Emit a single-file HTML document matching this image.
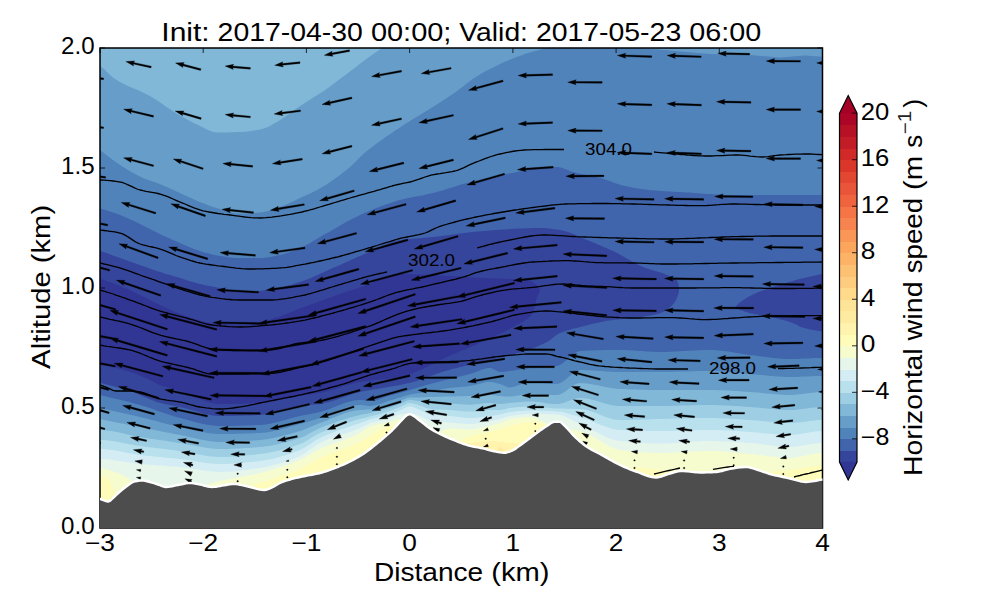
<!DOCTYPE html>
<html><head><meta charset="utf-8"><title>Cross-section</title>
<style>html,body{margin:0;padding:0;background:#fff;}body{width:1000px;height:600px;overflow:hidden;font-family:"Liberation Sans",sans-serif;}svg{display:block}</style></head>
<body>
<svg width="1000" height="600" viewBox="0 0 1000 600" style="display:block">
<rect width="1000" height="600" fill="#ffffff"/>
<defs><clipPath id="ax"><rect x="100.0" y="48.0" width="722.5" height="480.0"/></clipPath></defs>
<g clip-path="url(#ax)">
<g shape-rendering="geometricPrecision">
<path d="M98.0,46.0 L824.5,46.0 L824.5,530.0 L98.0,530.0Z" fill="#81b7d7"/>
<path d="M98.0,65.0 L101.0,66.6 L104.0,69.1 L107.0,71.9 L110.0,74.9 L113.0,77.5 L116.0,79.6 L119.0,81.4 L122.0,83.0 L125.0,84.5 L128.0,85.9 L131.0,87.2 L134.0,88.5 L137.0,89.8 L140.0,91.1 L143.0,92.4 L146.0,93.9 L149.0,95.4 L152.0,97.2 L155.0,99.0 L158.0,101.0 L161.0,103.1 L164.0,105.2 L167.0,107.3 L170.0,109.3 L173.0,111.3 L176.0,113.1 L179.0,114.9 L182.0,116.6 L185.0,118.3 L188.0,120.0 L191.0,121.6 L194.0,123.2 L197.0,124.6 L200.0,126.0 L203.0,127.4 L206.0,129.0 L209.0,130.4 L212.0,131.6 L215.0,132.3 L218.0,132.5 L221.0,132.5 L224.0,132.4 L227.0,132.4 L230.0,132.3 L233.0,132.2 L236.0,132.1 L239.0,132.0 L242.0,131.9 L245.0,131.7 L248.0,131.4 L251.0,131.0 L254.0,130.5 L257.0,130.0 L260.0,129.4 L263.0,128.8 L266.0,127.7 L269.0,126.4 L272.0,124.8 L275.0,123.0 L278.0,121.2 L281.0,119.4 L284.0,117.5 L287.0,115.4 L290.0,113.2 L293.0,111.0 L296.0,108.8 L299.0,106.7 L302.0,104.7 L305.0,102.7 L308.0,100.9 L311.0,99.0 L314.0,97.1 L317.0,95.2 L320.0,93.3 L323.0,91.4 L326.0,89.3 L329.0,87.2 L332.0,85.0 L335.0,82.8 L338.0,80.6 L341.0,78.3 L344.0,76.0 L347.0,73.8 L350.0,71.5 L353.0,69.2 L356.0,66.9 L359.0,64.6 L362.0,62.2 L365.0,60.0 L368.0,57.8 L371.0,55.7 L374.0,53.6 L377.0,51.6 L380.0,49.4 L383.0,47.3 L386.0,45.0 L387.0,45.0 L824.5,45.0 L824.5,45.0 L824.5,530.0 L98.0,530.0 L98.0,65.0Z" fill="#679ec9"/>
<path d="M98.0,148.5 L101.0,150.8 L104.0,153.1 L107.0,155.4 L110.0,157.8 L113.0,160.1 L116.0,162.3 L119.0,164.3 L122.0,166.3 L125.0,168.2 L128.0,170.0 L131.0,171.8 L134.0,173.5 L137.0,175.1 L140.0,176.6 L143.0,178.0 L146.0,179.2 L149.0,180.3 L152.0,181.2 L155.0,182.2 L158.0,183.2 L161.0,184.4 L164.0,185.7 L167.0,187.0 L170.0,188.4 L173.0,189.8 L176.0,191.2 L179.0,192.5 L182.0,193.9 L185.0,195.3 L188.0,196.7 L191.0,198.1 L194.0,199.5 L197.0,200.8 L200.0,202.0 L203.0,203.2 L206.0,204.3 L209.0,205.4 L212.0,206.5 L215.0,207.5 L218.0,208.4 L221.0,209.3 L224.0,210.2 L227.0,211.1 L230.0,211.9 L233.0,212.7 L236.0,213.2 L239.0,213.5 L242.0,213.5 L245.0,213.4 L248.0,213.3 L251.0,213.2 L254.0,213.0 L257.0,212.7 L260.0,212.5 L263.0,212.1 L266.0,211.5 L269.0,210.7 L272.0,209.8 L275.0,208.7 L278.0,207.7 L281.0,206.6 L284.0,205.5 L287.0,204.2 L290.0,202.8 L293.0,201.4 L296.0,199.9 L299.0,198.5 L302.0,197.1 L305.0,195.8 L308.0,194.4 L311.0,193.0 L314.0,191.6 L317.0,190.0 L320.0,188.3 L323.0,186.5 L326.0,184.7 L329.0,182.7 L332.0,180.7 L335.0,178.6 L338.0,176.4 L341.0,174.2 L344.0,171.8 L347.0,169.4 L350.0,167.0 L353.0,164.3 L356.0,161.3 L359.0,158.2 L362.0,155.2 L365.0,152.5 L368.0,150.0 L371.0,147.7 L374.0,145.4 L377.0,143.2 L380.0,141.0 L383.0,138.9 L386.0,136.8 L389.0,134.7 L392.0,132.7 L395.0,130.6 L398.0,128.7 L401.0,126.7 L404.0,124.7 L407.0,122.8 L410.0,120.9 L413.0,119.1 L416.0,117.2 L419.0,115.4 L422.0,113.6 L425.0,111.8 L428.0,110.0 L431.0,108.1 L434.0,106.2 L437.0,104.3 L440.0,102.4 L443.0,100.4 L446.0,98.5 L449.0,96.5 L452.0,94.5 L455.0,92.4 L458.0,90.3 L461.0,88.0 L464.0,85.7 L467.0,83.3 L470.0,81.0 L473.0,78.8 L476.0,76.9 L479.0,75.0 L482.0,73.3 L485.0,71.6 L488.0,69.9 L491.0,68.4 L494.0,66.9 L497.0,65.4 L500.0,64.0 L503.0,62.6 L506.0,61.3 L509.0,60.1 L512.0,58.8 L515.0,57.6 L518.0,56.5 L521.0,55.4 L524.0,54.3 L527.0,53.3 L530.0,52.4 L533.0,51.6 L536.0,50.8 L539.0,49.9 L542.0,49.0 L545.0,48.0 L548.0,46.8 L551.0,45.5 L552.0,45.0 L553.0,45.0 L824.5,45.0 L824.5,45.0 L824.5,530.0 L98.0,530.0 L98.0,148.5Z" fill="#5183bb"/>
<path d="M642.0,46.0 L642.0,48.0 L675.0,51.0 L710.0,54.0 L750.0,55.0 L780.0,57.5 L805.0,55.5 L825.0,57.0 L825.0,46.0Z" fill="#679ec9"/>
<path d="M98.0,208.0 L101.0,208.8 L104.0,209.6 L107.0,210.5 L110.0,211.5 L113.0,212.5 L116.0,213.5 L119.0,214.6 L122.0,215.8 L125.0,217.0 L128.0,218.3 L131.0,219.7 L134.0,221.1 L137.0,222.6 L140.0,224.0 L143.0,225.5 L146.0,227.0 L149.0,228.5 L152.0,230.0 L155.0,231.5 L158.0,233.0 L161.0,234.5 L164.0,235.9 L167.0,237.3 L170.0,238.6 L173.0,240.0 L176.0,241.3 L179.0,242.6 L182.0,243.9 L185.0,245.2 L188.0,246.4 L191.0,247.7 L194.0,248.9 L197.0,250.0 L200.0,251.0 L203.0,251.9 L206.0,252.8 L209.0,253.6 L212.0,254.4 L215.0,255.1 L218.0,255.7 L221.0,256.1 L224.0,256.6 L227.0,257.0 L230.0,257.4 L233.0,257.7 L236.0,257.9 L239.0,258.0 L242.0,258.0 L245.0,258.0 L248.0,258.0 L251.0,258.0 L254.0,258.0 L257.0,258.0 L260.0,258.0 L263.0,257.9 L266.0,257.6 L269.0,257.2 L272.0,256.7 L275.0,256.1 L278.0,255.4 L281.0,254.8 L284.0,254.0 L287.0,253.1 L290.0,252.0 L293.0,250.9 L296.0,249.7 L299.0,248.4 L302.0,247.1 L305.0,245.7 L308.0,244.1 L311.0,242.4 L314.0,240.6 L317.0,238.8 L320.0,237.0 L323.0,235.3 L326.0,233.6 L329.0,231.9 L332.0,230.2 L335.0,228.5 L338.0,226.7 L341.0,225.0 L344.0,223.3 L347.0,221.6 L350.0,220.0 L353.0,218.4 L356.0,216.9 L359.0,215.5 L362.0,214.1 L365.0,212.8 L368.0,211.5 L371.0,210.2 L374.0,209.0 L377.0,207.8 L380.0,206.6 L383.0,205.5 L386.0,204.4 L389.0,203.4 L392.0,202.4 L395.0,201.4 L398.0,200.6 L401.0,199.7 L404.0,199.0 L407.0,198.3 L410.0,197.7 L413.0,197.1 L416.0,196.5 L419.0,195.9 L422.0,195.4 L425.0,194.8 L428.0,194.1 L431.0,193.5 L434.0,192.7 L437.0,192.0 L440.0,191.1 L443.0,190.2 L446.0,189.3 L449.0,188.3 L452.0,187.4 L455.0,186.5 L458.0,185.5 L461.0,184.6 L464.0,183.8 L467.0,183.0 L470.0,182.2 L473.0,181.5 L476.0,180.8 L479.0,180.0 L482.0,179.3 L485.0,178.6 L488.0,178.0 L491.0,177.3 L494.0,176.6 L497.0,176.0 L500.0,175.3 L503.0,174.7 L506.0,174.1 L509.0,173.5 L512.0,172.9 L515.0,172.4 L518.0,171.8 L521.0,171.2 L524.0,170.7 L527.0,170.1 L530.0,169.5 L533.0,169.0 L536.0,168.5 L539.0,168.1 L542.0,167.7 L545.0,167.5 L548.0,167.3 L551.0,167.2 L554.0,167.0 L557.0,167.0 L560.0,167.3 L563.0,168.2 L566.0,169.4 L569.0,170.6 L572.0,171.7 L575.0,172.5 L578.0,173.2 L581.0,173.9 L584.0,174.5 L587.0,175.1 L590.0,175.7 L593.0,176.3 L596.0,177.0 L599.0,177.7 L602.0,178.6 L605.0,179.5 L608.0,180.5 L611.0,181.6 L614.0,182.7 L617.0,183.7 L620.0,184.7 L623.0,185.5 L626.0,186.2 L629.0,186.8 L632.0,187.4 L635.0,187.9 L638.0,188.4 L641.0,188.9 L644.0,189.3 L647.0,189.7 L650.0,190.0 L653.0,190.3 L656.0,190.5 L659.0,190.8 L662.0,191.0 L665.0,191.2 L668.0,191.4 L671.0,191.6 L674.0,191.7 L677.0,191.9 L680.0,192.1 L683.0,192.3 L686.0,192.4 L689.0,192.6 L692.0,192.8 L695.0,193.0 L698.0,193.2 L701.0,193.5 L704.0,193.7 L707.0,193.9 L710.0,194.1 L713.0,194.3 L716.0,194.5 L719.0,194.6 L722.0,194.8 L725.0,194.9 L728.0,194.9 L731.0,195.0 L734.0,195.0 L737.0,195.0 L740.0,195.0 L743.0,195.0 L746.0,195.0 L749.0,195.0 L752.0,195.0 L755.0,195.0 L758.0,195.0 L761.0,195.0 L764.0,195.0 L767.0,195.0 L770.0,195.0 L773.0,195.0 L776.0,195.0 L779.0,195.0 L782.0,195.0 L785.0,195.0 L788.0,195.0 L791.0,195.0 L794.0,195.0 L797.0,195.0 L800.0,195.0 L803.0,195.0 L806.0,195.0 L809.0,195.0 L812.0,195.0 L815.0,195.0 L818.0,195.0 L821.0,195.0 L824.0,195.0 L825.0,195.0 L824.5,195.0 L824.5,530.0 L98.0,530.0 L98.0,208.0Z" fill="#4065ac"/>
<path d="M98.0,250.5 L98.0,250.5 L100.9,251.3 L103.8,252.1 L106.6,253.1 L109.4,254.1 L112.2,255.2 L115.1,256.2 L117.9,257.2 L120.7,258.2 L123.5,259.2 L126.4,260.2 L129.2,261.2 L132.0,262.2 L134.9,263.2 L137.7,264.2 L140.5,265.2 L143.4,266.2 L146.2,267.2 L149.0,268.2 L151.8,269.2 L154.7,270.2 L157.5,271.2 L160.4,272.1 L163.2,273.0 L166.1,273.9 L169.0,274.7 L171.8,275.6 L174.7,276.4 L177.6,277.3 L180.5,278.1 L183.3,279.0 L186.2,279.9 L189.1,280.9 L191.9,281.8 L194.8,282.6 L197.7,283.4 L200.6,284.1 L203.5,284.8 L206.4,285.4 L209.4,286.0 L212.3,286.6 L215.3,287.1 L218.2,287.7 L221.2,288.2 L224.1,288.9 L227.1,289.5 L230.0,290.2 L233.0,290.8 L235.9,291.4 L238.9,291.8 L241.9,292.0 L244.9,292.0 L247.8,291.9 L250.8,291.7 L253.8,291.5 L256.8,291.2 L259.8,290.9 L262.8,290.5 L265.8,290.1 L268.8,289.8 L271.7,289.3 L274.7,288.8 L277.6,288.2 L280.5,287.5 L283.5,286.8 L286.4,286.0 L289.3,285.2 L292.2,284.4 L295.1,283.5 L297.9,282.6 L300.8,281.8 L303.6,280.8 L306.4,279.8 L309.2,278.7 L312.0,277.5 L314.7,276.3 L317.5,275.1 L320.2,273.8 L322.9,272.6 L325.7,271.3 L328.4,270.0 L331.1,268.8 L333.9,267.6 L336.6,266.4 L339.4,265.2 L342.1,264.0 L344.9,262.7 L347.6,261.5 L350.3,260.3 L353.1,259.0 L355.8,257.8 L358.6,256.6 L361.3,255.4 L364.1,254.2 L366.8,253.1 L369.6,251.9 L372.4,250.6 L375.1,249.3 L377.9,248.0 L380.6,246.7 L383.4,245.4 L386.2,244.2 L389.0,243.1 L391.8,242.0 L394.6,241.2 L397.5,240.5 L400.3,239.9 L403.2,239.6 L406.2,239.2 L409.2,238.9 L412.1,238.7 L415.1,238.4 L418.2,238.2 L421.2,238.0 L424.2,237.8 L427.2,237.5 L430.2,237.3 L433.2,237.0 L436.2,236.7 L439.2,236.3 L442.2,235.9 L445.1,235.6 L448.1,235.2 L451.1,234.8 L454.1,234.4 L457.0,234.0 L460.0,233.5 L463.0,233.2 L466.0,232.8 L468.9,232.4 L471.9,232.1 L474.9,231.7 L477.9,231.4 L480.9,231.2 L483.9,230.9 L486.8,230.7 L489.8,230.5 L492.8,230.3 L495.8,230.0 L498.8,229.8 L501.8,229.6 L504.8,229.4 L507.8,229.2 L510.8,229.0 L513.8,228.8 L516.8,228.7 L519.8,228.5 L522.8,228.4 L525.8,228.3 L528.8,228.2 L531.8,228.1 L534.8,228.0 L537.8,228.0 L540.8,228.0 L543.8,228.1 L546.8,228.3 L549.8,228.6 L552.8,229.0 L555.8,229.4 L558.7,229.8 L561.6,230.3 L564.5,231.0 L567.3,231.8 L570.2,232.8 L573.0,233.9 L575.8,235.1 L578.6,236.3 L581.3,237.6 L584.1,238.8 L586.9,240.0 L589.7,241.1 L592.5,242.2 L595.2,243.3 L598.0,244.5 L600.8,245.7 L603.5,246.9 L606.3,248.1 L609.0,249.3 L611.8,250.5 L614.5,251.8 L617.2,253.1 L619.8,254.4 L622.5,255.9 L625.1,257.4 L627.7,258.9 L630.3,260.4 L632.9,261.9 L635.5,263.4 L638.2,264.8 L640.9,266.1 L643.6,267.2 L646.4,268.3 L649.3,269.2 L652.2,270.1 L655.1,270.9 L658.0,271.7 L660.9,272.6 L663.7,273.6 L666.4,274.7 L669.3,276.0 L672.4,277.4 L675.3,279.0 L677.4,280.9 L678.3,283.1 L678.7,286.0 L679.0,289.3 L678.8,292.2 L678.0,295.3 L676.9,298.1 L675.7,300.7 L674.1,303.1 L672.0,305.4 L669.7,307.6 L667.2,309.6 L664.6,311.2 L662.0,312.4 L659.2,313.4 L656.3,314.3 L653.3,314.9 L650.4,315.5 L647.4,316.0 L644.5,316.5 L641.5,316.9 L638.5,317.3 L635.5,317.7 L632.5,318.1 L629.6,318.4 L626.6,318.7 L623.6,318.9 L620.6,319.2 L617.6,319.5 L614.6,319.8 L611.7,320.2 L608.7,320.6 L605.7,321.1 L602.8,321.7 L599.8,322.3 L596.9,322.9 L594.0,323.6 L591.0,324.3 L588.1,325.0 L585.2,325.7 L582.3,326.4 L579.4,327.2 L576.5,327.9 L573.5,328.6 L570.6,329.4 L567.7,330.2 L564.8,331.2 L562.0,332.2 L559.3,333.3 L556.8,334.8 L554.4,336.6 L552.0,338.6 L549.6,340.4 L547.1,342.0 L544.4,343.3 L541.7,344.6 L539.0,345.8 L536.2,346.9 L533.4,348.0 L530.5,349.0 L527.7,350.0 L524.8,351.0 L521.9,351.9 L519.1,352.8 L516.2,353.6 L513.3,354.4 L510.4,355.2 L507.5,356.0 L504.6,356.7 L501.7,357.4 L498.8,358.1 L495.9,358.8 L492.9,359.5 L490.0,360.1 L487.1,360.8 L484.1,361.5 L481.2,362.2 L478.3,362.9 L475.4,363.6 L472.5,364.3 L469.5,365.0 L466.6,365.6 L463.7,366.3 L460.8,367.0 L457.8,367.7 L454.9,368.4 L452.0,369.1 L449.1,369.9 L446.3,370.7 L443.4,371.6 L440.5,372.5 L437.7,373.5 L434.9,374.5 L432.0,375.6 L429.2,376.6 L426.4,377.6 L423.6,378.7 L420.7,379.6 L417.9,380.6 L415.0,381.4 L412.1,382.2 L409.2,383.0 L406.3,383.6 L403.4,384.3 L400.4,384.9 L397.5,385.5 L394.6,386.0 L391.6,386.6 L388.6,387.1 L385.7,387.5 L382.7,388.0 L379.7,388.5 L376.8,388.9 L373.8,389.4 L370.8,389.9 L367.9,390.4 L364.9,391.0 L362.0,391.6 L359.1,392.2 L356.2,392.9 L353.3,393.8 L350.4,394.7 L347.6,395.7 L344.7,396.7 L341.9,397.7 L339.0,398.8 L336.2,399.8 L333.3,400.7 L330.5,401.6 L327.6,402.4 L324.7,403.1 L321.8,403.7 L318.8,404.2 L315.9,404.5 L312.9,404.8 L309.9,405.0 L306.9,405.3 L303.9,405.6 L300.9,405.9 L297.9,406.3 L295.0,406.8 L292.0,407.4 L289.1,408.0 L286.2,408.6 L283.2,409.3 L280.3,409.9 L277.4,410.7 L274.5,411.5 L271.6,412.4 L268.7,413.3 L265.8,414.1 L262.9,414.7 L259.9,415.0 L257.0,415.1 L254.0,415.3 L251.0,415.4 L248.0,415.5 L245.0,415.6 L242.0,415.7 L239.0,415.8 L235.9,415.8 L232.9,415.9 L229.9,415.9 L226.9,416.0 L223.9,416.0 L220.9,416.0 L218.0,416.0 L215.0,415.7 L212.1,415.4 L209.1,414.8 L206.2,414.2 L203.3,413.5 L200.4,412.7 L197.5,411.8 L194.6,411.0 L191.6,410.1 L188.7,409.2 L185.8,408.4 L182.9,407.7 L179.9,407.0 L177.0,406.4 L174.0,405.9 L171.1,405.3 L168.1,404.8 L165.2,404.2 L162.3,403.6 L159.4,402.8 L156.5,401.9 L153.7,400.8 L150.9,399.7 L148.1,398.6 L145.4,397.4 L142.6,396.2 L139.9,395.0 L137.1,393.8 L134.4,392.6 L131.6,391.5 L128.7,390.6 L125.9,389.7 L123.0,388.9 L120.1,388.1 L117.2,387.3 L114.3,386.6 L111.4,385.8 L108.5,385.0 L105.6,384.3 L102.6,383.5 L99.7,383.0 L98.0,382.7 L98.0,382.7Z" fill="#36459c"/>
<path d="M825.0,273.5 L822.0,274.1 L819.1,274.6 L816.2,275.2 L813.2,275.9 L810.3,276.5 L807.4,277.2 L804.5,277.9 L801.5,278.6 L798.6,279.3 L795.7,280.1 L792.8,280.9 L790.0,281.7 L787.1,282.5 L784.2,283.4 L781.3,284.3 L778.5,285.2 L775.6,286.1 L772.8,287.1 L769.9,288.0 L767.1,289.0 L764.2,290.0 L761.4,291.0 L758.5,292.1 L755.7,293.2 L753.0,294.5 L750.4,295.8 L747.6,297.3 L744.5,299.2 L741.5,301.2 L738.8,303.3 L736.8,305.2 L736.0,306.9 L736.8,308.3 L739.2,309.6 L742.5,310.8 L746.2,311.9 L749.5,312.9 L752.4,313.6 L755.3,314.3 L758.3,314.8 L761.2,315.4 L764.2,315.9 L767.2,316.4 L770.1,317.0 L773.0,317.7 L776.0,318.3 L778.9,319.0 L781.8,319.7 L784.7,320.5 L787.6,321.3 L790.5,322.2 L793.2,323.3 L796.0,324.6 L798.7,326.0 L801.4,327.2 L804.2,328.1 L807.1,328.8 L810.0,329.4 L812.9,330.0 L815.9,330.6 L818.9,331.0 L821.9,331.3 L825.0,331.5 L825.0,331.5 L824.5,331.5 L824.5,273.5Z" fill="#36459c"/>
<path d="M98.0,278.5 L98.0,278.5 L100.9,279.3 L103.8,280.1 L106.6,281.0 L109.5,282.0 L112.3,283.0 L115.1,284.1 L117.9,285.2 L120.7,286.3 L123.5,287.4 L126.2,288.6 L129.0,289.8 L131.7,291.1 L134.4,292.4 L137.1,293.6 L139.8,294.9 L142.5,296.2 L145.2,297.6 L147.9,298.9 L150.6,300.3 L153.2,301.7 L155.9,303.0 L158.6,304.3 L161.3,305.6 L164.0,306.9 L166.8,308.2 L169.5,309.5 L172.2,310.7 L175.0,311.9 L177.8,313.1 L180.5,314.1 L183.4,315.1 L186.2,316.1 L189.0,317.0 L191.9,318.0 L194.8,318.9 L197.7,319.8 L200.6,320.6 L203.5,321.3 L206.5,322.0 L209.4,322.5 L212.3,322.9 L215.3,323.2 L218.3,323.5 L221.3,323.8 L224.3,324.1 L227.3,324.3 L230.3,324.6 L233.3,324.7 L236.3,324.9 L239.3,325.0 L242.3,325.0 L245.2,324.9 L248.2,324.7 L251.2,324.3 L254.1,323.7 L257.1,323.0 L260.0,322.3 L262.9,321.4 L265.8,320.6 L268.7,319.7 L271.6,318.9 L274.5,318.1 L277.3,317.2 L280.2,316.2 L283.0,315.2 L285.8,314.1 L288.6,313.0 L291.4,311.9 L294.2,310.7 L297.0,309.6 L299.8,308.6 L302.6,307.5 L305.4,306.5 L308.2,305.5 L311.0,304.4 L313.9,303.4 L316.7,302.4 L319.5,301.3 L322.3,300.3 L325.1,299.3 L328.0,298.3 L330.8,297.3 L333.6,296.3 L336.5,295.3 L339.3,294.3 L342.1,293.3 L345.0,292.4 L347.8,291.4 L350.7,290.5 L353.5,289.5 L356.3,288.6 L359.2,287.6 L362.0,286.7 L364.9,285.7 L367.7,284.8 L370.6,283.7 L373.4,282.5 L376.2,281.3 L379.0,280.0 L381.9,278.8 L384.7,277.6 L387.5,276.5 L390.4,275.6 L393.2,274.8 L396.1,274.3 L399.0,274.0 L401.9,274.0 L404.9,274.0 L407.9,274.1 L410.9,274.2 L413.9,274.3 L416.9,274.4 L419.9,274.5 L422.9,274.6 L425.9,274.7 L429.0,274.8 L432.0,275.0 L435.0,275.1 L438.0,275.2 L441.0,275.4 L444.0,275.5 L446.9,275.7 L449.9,275.9 L452.9,276.1 L455.9,276.3 L458.9,276.5 L461.9,276.7 L464.9,276.9 L467.9,277.1 L470.9,277.3 L473.9,277.5 L476.9,277.7 L479.9,277.8 L482.9,278.0 L485.9,278.1 L489.0,278.3 L492.1,278.4 L495.2,278.5 L498.3,278.5 L501.4,278.6 L504.5,278.7 L507.6,278.8 L510.7,278.9 L513.7,279.0 L516.7,279.2 L519.5,279.4 L522.4,279.6 L525.1,279.8 L527.7,280.1 L530.8,281.1 L533.9,282.7 L536.8,284.9 L538.9,287.2 L540.0,289.6 L539.4,292.0 L537.9,294.9 L536.8,297.8 L536.0,300.8 L535.4,303.9 L534.8,307.0 L534.1,309.9 L533.2,312.5 L532.0,314.6 L530.2,316.6 L527.9,318.5 L525.3,320.2 L522.5,321.9 L519.6,323.4 L516.7,325.0 L514.0,326.5 L511.4,327.9 L508.8,329.4 L506.1,330.8 L503.4,332.2 L500.8,333.5 L498.0,334.8 L495.3,336.1 L492.6,337.3 L489.8,338.6 L487.1,339.8 L484.3,341.0 L481.6,342.3 L478.9,343.5 L476.1,344.7 L473.4,345.9 L470.6,347.1 L467.8,348.2 L465.1,349.4 L462.3,350.5 L459.5,351.6 L456.7,352.8 L454.0,354.0 L451.2,355.1 L448.5,356.3 L445.7,357.6 L443.0,358.9 L440.3,360.2 L437.7,361.6 L435.0,362.9 L432.3,364.3 L429.6,365.6 L426.9,366.9 L424.2,368.2 L421.5,369.4 L418.7,370.5 L415.9,371.7 L413.1,372.8 L410.3,373.9 L407.4,374.9 L404.6,375.9 L401.7,376.6 L398.8,377.2 L395.9,377.7 L392.9,378.2 L390.0,378.6 L387.0,378.9 L384.0,379.2 L381.0,379.5 L378.0,379.8 L375.0,380.1 L372.0,380.4 L369.0,380.7 L366.0,381.1 L363.0,381.5 L360.1,382.0 L357.2,382.5 L354.2,383.2 L351.3,384.0 L348.5,384.8 L345.6,385.6 L342.7,386.5 L339.8,387.5 L337.0,388.4 L334.1,389.3 L331.2,390.2 L328.3,391.0 L325.4,391.8 L322.5,392.5 L319.6,393.1 L316.6,393.6 L313.7,394.0 L310.7,394.4 L307.7,394.9 L304.7,395.3 L301.8,395.7 L298.8,396.2 L295.9,396.8 L292.9,397.4 L290.0,398.0 L287.1,398.6 L284.1,399.2 L281.2,399.8 L278.2,400.3 L275.3,400.9 L272.3,401.4 L269.3,401.9 L266.4,402.4 L263.4,402.7 L260.4,403.0 L257.4,403.1 L254.4,403.2 L251.4,403.4 L248.4,403.5 L245.4,403.6 L242.3,403.7 L239.3,403.7 L236.3,403.8 L233.3,403.9 L230.3,403.9 L227.3,404.0 L224.3,404.0 L221.4,404.0 L218.5,404.0 L215.6,403.7 L212.7,403.2 L209.8,402.5 L206.9,401.7 L204.1,400.7 L201.3,399.6 L198.4,398.4 L195.6,397.2 L192.8,396.0 L189.9,394.8 L187.1,393.6 L184.3,392.5 L181.4,391.5 L178.5,390.6 L175.7,389.7 L172.7,388.9 L169.8,388.1 L166.9,387.3 L164.1,386.4 L161.3,385.5 L158.5,384.4 L155.8,383.1 L153.2,381.6 L150.5,380.2 L147.8,378.9 L145.0,377.7 L142.3,376.6 L139.5,375.4 L136.7,374.3 L133.9,373.3 L131.0,372.3 L128.2,371.4 L125.3,370.5 L122.4,369.6 L119.6,368.8 L116.6,368.1 L113.7,367.4 L110.8,366.8 L107.9,366.2 L104.9,365.7 L101.9,365.2 L98.9,364.9 L98.0,364.8 L98.0,364.8Z" fill="#313695"/>
<path d="M98.0,394.5 L101.0,395.2 L104.0,396.0 L107.0,396.7 L110.0,397.4 L113.0,398.2 L116.0,398.9 L119.0,399.6 L122.0,400.3 L125.0,401.1 L128.0,401.8 L131.0,402.6 L134.0,403.4 L137.0,404.2 L140.0,405.0 L143.0,405.9 L146.0,406.8 L149.0,407.8 L152.0,408.8 L155.0,409.9 L158.0,411.0 L161.0,412.0 L164.0,413.1 L167.0,414.1 L170.0,415.1 L173.0,416.1 L176.0,416.9 L179.0,417.7 L182.0,418.5 L185.0,419.3 L188.0,420.1 L191.0,420.9 L194.0,421.7 L197.0,422.5 L200.0,423.2 L203.0,423.9 L206.0,424.5 L209.0,425.1 L212.0,425.5 L215.0,425.8 L218.0,426.0 L221.0,426.0 L224.0,426.0 L227.0,426.0 L230.0,425.9 L233.0,425.9 L236.0,425.8 L239.0,425.8 L242.0,425.7 L245.0,425.6 L248.0,425.5 L251.0,425.4 L254.0,425.3 L257.0,425.1 L260.0,425.0 L263.0,424.8 L266.0,424.4 L269.0,423.9 L272.0,423.3 L275.0,422.6 L278.0,421.9 L281.0,421.1 L284.0,420.2 L287.0,419.4 L290.0,418.5 L293.0,417.7 L296.0,416.9 L299.0,416.2 L302.0,415.6 L305.0,415.0 L308.0,414.4 L311.0,413.9 L314.0,413.3 L317.0,412.7 L320.0,412.0 L323.0,411.2 L326.0,410.3 L329.0,409.2 L332.0,408.0 L335.0,406.8 L338.0,405.6 L341.0,404.4 L344.0,403.3 L347.0,402.3 L350.0,401.4 L353.0,400.7 L356.0,400.3 L359.0,400.0 L362.0,400.1 L365.0,400.5 L368.0,400.9 L371.0,401.0 L374.0,400.6 L377.0,399.9 L380.0,398.9 L383.0,397.8 L386.0,396.7 L389.0,395.8 L392.0,395.0 L395.0,394.3 L398.0,393.5 L401.0,392.7 L404.0,391.8 L407.0,390.9 L410.0,390.0 L413.0,389.1 L416.0,388.2 L419.0,387.3 L422.0,386.4 L425.0,385.5 L428.0,384.6 L431.0,383.7 L434.0,382.9 L437.0,382.2 L440.0,381.4 L443.0,380.7 L446.0,380.0 L449.0,379.2 L452.0,378.5 L455.0,377.8 L458.0,377.0 L461.0,376.3 L464.0,375.6 L467.0,374.8 L470.0,374.0 L473.0,373.0 L476.0,371.9 L479.0,370.7 L482.0,369.6 L485.0,368.7 L488.0,368.1 L491.0,368.1 L494.0,369.4 L497.0,371.1 L500.0,372.0 L503.0,371.9 L506.0,371.5 L509.0,371.1 L512.0,370.7 L515.0,370.3 L518.0,369.8 L521.0,369.3 L524.0,368.8 L527.0,368.4 L530.0,368.0 L533.0,367.7 L536.0,367.5 L539.0,367.3 L542.0,367.2 L545.0,367.0 L548.0,366.9 L551.0,366.6 L554.0,366.4 L557.0,366.0 L560.0,365.0 L563.0,363.1 L566.0,360.6 L569.0,357.8 L572.0,355.1 L575.0,352.9 L578.0,351.4 L581.0,350.9 L584.0,350.8 L587.0,350.7 L590.0,350.5 L593.0,350.4 L596.0,350.3 L599.0,350.3 L602.0,350.2 L605.0,350.1 L608.0,350.1 L611.0,350.0 L614.0,350.0 L617.0,350.0 L620.0,350.0 L623.0,350.0 L626.0,350.1 L629.0,350.3 L632.0,350.4 L635.0,350.6 L638.0,350.9 L641.0,351.1 L644.0,351.3 L647.0,351.5 L650.0,351.7 L653.0,351.8 L656.0,351.9 L659.0,352.0 L662.0,352.0 L665.0,351.9 L668.0,351.9 L671.0,351.8 L674.0,351.6 L677.0,351.5 L680.0,351.3 L683.0,351.1 L686.0,350.9 L689.0,350.8 L692.0,350.6 L695.0,350.4 L698.0,350.3 L701.0,350.2 L704.0,350.1 L707.0,350.0 L710.0,350.0 L713.0,350.1 L716.0,350.2 L719.0,350.5 L722.0,350.8 L725.0,351.2 L728.0,351.6 L731.0,352.1 L734.0,352.6 L737.0,353.1 L740.0,353.6 L743.0,354.1 L746.0,354.5 L749.0,354.9 L752.0,355.2 L755.0,355.6 L758.0,356.0 L761.0,356.4 L764.0,356.8 L767.0,357.2 L770.0,357.6 L773.0,357.9 L776.0,358.2 L779.0,358.5 L782.0,358.7 L785.0,358.9 L788.0,359.0 L791.0,359.0 L794.0,359.0 L797.0,358.9 L800.0,358.8 L803.0,358.6 L806.0,358.5 L809.0,358.4 L812.0,358.2 L815.0,358.1 L818.0,358.0 L821.0,358.0 L824.0,358.0 L824.5,358.0 L824.5,358.0 L824.5,530.0 L98.0,530.0 L98.0,394.5Z" fill="#5183bb"/>
<path d="M98.0,407.5 L101.0,408.2 L104.0,408.9 L107.0,409.6 L110.0,410.3 L113.0,411.0 L116.0,411.6 L119.0,412.3 L122.0,413.0 L125.0,413.6 L128.0,414.3 L131.0,414.9 L134.0,415.6 L137.0,416.3 L140.0,417.0 L143.0,417.7 L146.0,418.5 L149.0,419.2 L152.0,420.0 L155.0,420.8 L158.0,421.6 L161.0,422.4 L164.0,423.2 L167.0,424.0 L170.0,424.7 L173.0,425.4 L176.0,426.1 L179.0,426.8 L182.0,427.4 L185.0,428.1 L188.0,428.8 L191.0,429.5 L194.0,430.2 L197.0,430.9 L200.0,431.5 L203.0,432.1 L206.0,432.7 L209.0,433.2 L212.0,433.5 L215.0,433.8 L218.0,434.0 L221.0,434.0 L224.0,434.0 L227.0,434.0 L230.0,433.9 L233.0,433.9 L236.0,433.8 L239.0,433.8 L242.0,433.7 L245.0,433.6 L248.0,433.5 L251.0,433.4 L254.0,433.3 L257.0,433.1 L260.0,433.0 L263.0,432.8 L266.0,432.5 L269.0,432.0 L272.0,431.4 L275.0,430.8 L278.0,430.1 L281.0,429.3 L284.0,428.5 L287.0,427.7 L290.0,426.8 L293.0,425.9 L296.0,425.1 L299.0,424.3 L302.0,423.5 L305.0,422.6 L308.0,421.7 L311.0,420.8 L314.0,419.9 L317.0,418.9 L320.0,418.0 L323.0,417.0 L326.0,415.9 L329.0,414.6 L332.0,413.4 L335.0,412.1 L338.0,410.8 L341.0,409.5 L344.0,408.4 L347.0,407.3 L350.0,406.4 L353.0,405.7 L356.0,405.3 L359.0,405.0 L362.0,405.1 L365.0,405.5 L368.0,405.9 L371.0,406.0 L374.0,405.6 L377.0,404.9 L380.0,404.0 L383.0,402.9 L386.0,401.8 L389.0,400.8 L392.0,399.9 L395.0,399.0 L398.0,398.1 L401.0,397.2 L404.0,396.2 L407.0,395.3 L410.0,394.5 L413.0,394.0 L416.0,393.6 L419.0,393.1 L422.0,392.7 L425.0,392.3 L428.0,391.8 L431.0,391.3 L434.0,390.8 L437.0,390.2 L440.0,389.7 L443.0,389.1 L446.0,388.6 L449.0,388.1 L452.0,387.8 L455.0,387.5 L458.0,387.2 L461.0,386.9 L464.0,386.7 L467.0,386.4 L470.0,386.0 L473.0,385.5 L476.0,384.7 L479.0,383.9 L482.0,383.2 L485.0,382.5 L488.0,382.1 L491.0,382.0 L494.0,382.5 L497.0,383.2 L500.0,384.0 L503.0,385.1 L506.0,386.5 L509.0,387.4 L512.0,387.3 L515.0,386.6 L518.0,385.6 L521.0,384.3 L524.0,383.2 L527.0,382.3 L530.0,382.0 L533.0,382.1 L536.0,382.3 L539.0,382.5 L542.0,382.8 L545.0,383.2 L548.0,383.5 L551.0,383.7 L554.0,383.9 L557.0,384.0 L560.0,383.3 L563.0,381.6 L566.0,379.2 L569.0,376.5 L572.0,373.9 L575.0,371.7 L578.0,370.3 L581.0,370.0 L584.0,370.1 L587.0,370.2 L590.0,370.3 L593.0,370.5 L596.0,370.7 L599.0,370.9 L602.0,371.1 L605.0,371.4 L608.0,371.6 L611.0,371.7 L614.0,371.9 L617.0,372.0 L620.0,372.0 L623.0,372.0 L626.0,372.0 L629.0,372.0 L632.0,372.0 L635.0,372.0 L638.0,372.0 L641.0,372.0 L644.0,372.0 L647.0,372.0 L650.0,372.0 L653.0,372.0 L656.0,372.0 L659.0,372.0 L662.0,372.0 L665.0,372.0 L668.0,371.9 L671.0,371.9 L674.0,371.8 L677.0,371.7 L680.0,371.6 L683.0,371.6 L686.0,371.5 L689.0,371.4 L692.0,371.3 L695.0,371.2 L698.0,371.1 L701.0,371.1 L704.0,371.0 L707.0,371.0 L710.0,371.0 L713.0,371.0 L716.0,371.1 L719.0,371.3 L722.0,371.5 L725.0,371.7 L728.0,371.9 L731.0,372.2 L734.0,372.5 L737.0,372.8 L740.0,373.1 L743.0,373.4 L746.0,373.7 L749.0,373.9 L752.0,374.2 L755.0,374.4 L758.0,374.7 L761.0,375.0 L764.0,375.3 L767.0,375.6 L770.0,375.9 L773.0,376.1 L776.0,376.4 L779.0,376.6 L782.0,376.8 L785.0,376.9 L788.0,377.0 L791.0,377.0 L794.0,377.0 L797.0,376.9 L800.0,376.8 L803.0,376.6 L806.0,376.5 L809.0,376.4 L812.0,376.2 L815.0,376.1 L818.0,376.0 L821.0,376.0 L824.0,376.0 L824.5,376.0 L824.5,376.0 L824.5,530.0 L98.0,530.0 L98.0,407.5Z" fill="#679ec9"/>
<path d="M98.0,418.5 L101.0,419.2 L104.0,419.9 L107.0,420.5 L110.0,421.2 L113.0,421.8 L116.0,422.4 L119.0,423.0 L122.0,423.5 L125.0,424.1 L128.0,424.7 L131.0,425.2 L134.0,425.8 L137.0,426.4 L140.0,427.0 L143.0,427.6 L146.0,428.2 L149.0,428.8 L152.0,429.4 L155.0,430.0 L158.0,430.7 L161.0,431.3 L164.0,431.9 L167.0,432.5 L170.0,433.1 L173.0,433.7 L176.0,434.2 L179.0,434.8 L182.0,435.4 L185.0,436.0 L188.0,436.7 L191.0,437.4 L194.0,438.1 L197.0,438.8 L200.0,439.4 L203.0,440.1 L206.0,440.6 L209.0,441.1 L212.0,441.5 L215.0,441.8 L218.0,442.0 L221.0,442.0 L224.0,442.0 L227.0,441.9 L230.0,441.8 L233.0,441.7 L236.0,441.6 L239.0,441.5 L242.0,441.3 L245.0,441.1 L248.0,440.9 L251.0,440.7 L254.0,440.5 L257.0,440.2 L260.0,440.0 L263.0,439.7 L266.0,439.3 L269.0,438.9 L272.0,438.3 L275.0,437.7 L278.0,437.1 L281.0,436.3 L284.0,435.6 L287.0,434.8 L290.0,433.9 L293.0,433.1 L296.0,432.2 L299.0,431.3 L302.0,430.4 L305.0,429.3 L308.0,428.0 L311.0,426.7 L314.0,425.4 L317.0,424.2 L320.0,423.0 L323.0,421.9 L326.0,420.7 L329.0,419.5 L332.0,418.2 L335.0,417.0 L338.0,415.8 L341.0,414.7 L344.0,413.6 L347.0,412.6 L350.0,411.8 L353.0,411.0 L356.0,410.5 L359.0,410.1 L362.0,409.9 L365.0,409.8 L368.0,409.6 L371.0,409.4 L374.0,408.9 L377.0,408.2 L380.0,407.3 L383.0,406.3 L386.0,405.3 L389.0,404.3 L392.0,403.4 L395.0,402.5 L398.0,401.6 L401.0,400.6 L404.0,399.3 L407.0,398.1 L410.0,397.5 L413.0,397.5 L416.0,397.5 L419.0,397.5 L422.0,397.5 L425.0,397.3 L428.0,397.1 L431.0,397.0 L434.0,396.9 L437.0,396.8 L440.0,396.7 L443.0,396.7 L446.0,396.6 L449.0,396.5 L452.0,396.5 L455.0,396.4 L458.0,396.3 L461.0,396.2 L464.0,396.2 L467.0,396.1 L470.0,396.0 L473.0,395.9 L476.0,395.7 L479.0,395.5 L482.0,395.3 L485.0,395.1 L488.0,395.0 L491.0,395.0 L494.0,395.3 L497.0,395.7 L500.0,396.0 L503.0,396.2 L506.0,396.4 L509.0,396.5 L512.0,396.4 L515.0,396.1 L518.0,395.6 L521.0,395.1 L524.0,394.5 L527.0,394.2 L530.0,394.0 L533.0,394.0 L536.0,394.1 L539.0,394.3 L542.0,394.4 L545.0,394.6 L548.0,394.7 L551.0,394.9 L554.0,395.0 L557.0,395.0 L560.0,394.4 L563.0,393.0 L566.0,390.9 L569.0,388.6 L572.0,386.3 L575.0,384.5 L578.0,383.3 L581.0,383.0 L584.0,383.2 L587.0,383.4 L590.0,383.9 L593.0,384.4 L596.0,384.9 L599.0,385.6 L602.0,386.2 L605.0,386.9 L608.0,387.5 L611.0,388.0 L614.0,388.4 L617.0,388.8 L620.0,389.0 L623.0,389.1 L626.0,389.2 L629.0,389.4 L632.0,389.5 L635.0,389.6 L638.0,389.7 L641.0,389.7 L644.0,389.8 L647.0,389.9 L650.0,389.9 L653.0,390.0 L656.0,390.0 L659.0,390.0 L662.0,390.0 L665.0,390.0 L668.0,390.0 L671.0,390.0 L674.0,390.0 L677.0,390.0 L680.0,390.0 L683.0,390.0 L686.0,390.0 L689.0,390.0 L692.0,390.0 L695.0,390.0 L698.0,390.0 L701.0,390.0 L704.0,390.0 L707.0,390.0 L710.0,390.0 L713.0,390.0 L716.0,390.1 L719.0,390.2 L722.0,390.3 L725.0,390.4 L728.0,390.6 L731.0,390.8 L734.0,391.0 L737.0,391.1 L740.0,391.3 L743.0,391.6 L746.0,391.7 L749.0,391.9 L752.0,392.1 L755.0,392.4 L758.0,392.6 L761.0,392.9 L764.0,393.2 L767.0,393.5 L770.0,393.8 L773.0,394.1 L776.0,394.3 L779.0,394.6 L782.0,394.8 L785.0,394.9 L788.0,395.0 L791.0,395.0 L794.0,394.9 L797.0,394.6 L800.0,394.3 L803.0,393.9 L806.0,393.5 L809.0,393.1 L812.0,392.7 L815.0,392.4 L818.0,392.1 L821.0,392.0 L824.0,392.0 L824.5,392.0 L824.5,392.0 L824.5,530.0 L98.0,530.0 L98.0,418.5Z" fill="#81b7d7"/>
<path d="M98.0,430.0 L101.0,430.0 L104.0,430.1 L107.0,430.4 L110.0,430.8 L113.0,431.3 L116.0,431.8 L119.0,432.5 L122.0,433.1 L125.0,433.8 L128.0,434.5 L131.0,435.2 L134.0,435.9 L137.0,436.5 L140.0,437.0 L143.0,437.5 L146.0,438.0 L149.0,438.4 L152.0,438.9 L155.0,439.3 L158.0,439.8 L161.0,440.2 L164.0,440.6 L167.0,441.1 L170.0,441.5 L173.0,442.0 L176.0,442.4 L179.0,442.9 L182.0,443.3 L185.0,443.8 L188.0,444.4 L191.0,445.0 L194.0,445.6 L197.0,446.2 L200.0,446.8 L203.0,447.3 L206.0,447.8 L209.0,448.2 L212.0,448.6 L215.0,448.8 L218.0,449.0 L221.0,449.0 L224.0,449.0 L227.0,448.9 L230.0,448.8 L233.0,448.7 L236.0,448.6 L239.0,448.5 L242.0,448.3 L245.0,448.1 L248.0,447.9 L251.0,447.7 L254.0,447.5 L257.0,447.2 L260.0,447.0 L263.0,446.7 L266.0,446.3 L269.0,445.9 L272.0,445.4 L275.0,444.8 L278.0,444.2 L281.0,443.5 L284.0,442.7 L287.0,441.9 L290.0,441.1 L293.0,440.2 L296.0,439.3 L299.0,438.3 L302.0,437.3 L305.0,435.9 L308.0,434.3 L311.0,432.6 L314.0,430.9 L317.0,429.4 L320.0,428.0 L323.0,426.8 L326.0,425.6 L329.0,424.5 L332.0,423.4 L335.0,422.4 L338.0,421.3 L341.0,420.3 L344.0,419.4 L347.0,418.5 L350.0,417.6 L353.0,416.8 L356.0,416.0 L359.0,415.2 L362.0,414.6 L365.0,414.0 L368.0,413.4 L371.0,412.8 L374.0,412.0 L377.0,411.3 L380.0,410.5 L383.0,409.6 L386.0,408.7 L389.0,407.8 L392.0,406.9 L395.0,405.8 L398.0,404.7 L401.0,403.6 L404.0,402.1 L407.0,400.6 L410.0,400.0 L413.0,400.2 L416.0,400.8 L419.0,401.3 L422.0,401.8 L425.0,402.4 L428.0,402.8 L431.0,403.0 L434.0,403.1 L437.0,403.2 L440.0,403.3 L443.0,403.3 L446.0,403.4 L449.0,403.5 L452.0,403.6 L455.0,403.8 L458.0,404.0 L461.0,404.3 L464.0,404.5 L467.0,404.6 L470.0,404.7 L473.0,404.6 L476.0,404.3 L479.0,404.0 L482.0,403.6 L485.0,403.3 L488.0,403.0 L491.0,403.0 L494.0,403.4 L497.0,403.8 L500.0,404.0 L503.0,403.8 L506.0,403.5 L509.0,403.1 L512.0,402.8 L515.0,402.5 L518.0,402.2 L521.0,401.9 L524.0,401.7 L527.0,401.6 L530.0,401.5 L533.0,401.6 L536.0,401.8 L539.0,402.1 L542.0,402.5 L545.0,403.0 L548.0,403.4 L551.0,403.7 L554.0,403.9 L557.0,404.0 L560.0,403.7 L563.0,403.0 L566.0,402.0 L569.0,400.8 L572.0,399.7 L575.0,398.7 L578.0,398.1 L581.0,398.0 L584.0,398.2 L587.0,398.6 L590.0,399.2 L593.0,400.0 L596.0,400.8 L599.0,401.7 L602.0,402.6 L605.0,403.5 L608.0,404.3 L611.0,405.0 L614.0,405.5 L617.0,405.9 L620.0,406.0 L623.0,406.0 L626.0,406.0 L629.0,406.0 L632.0,406.0 L635.0,406.0 L638.0,406.0 L641.0,406.0 L644.0,406.0 L647.0,406.0 L650.0,406.0 L653.0,406.0 L656.0,406.0 L659.0,406.0 L662.0,406.0 L665.0,406.0 L668.0,405.9 L671.0,405.9 L674.0,405.8 L677.0,405.7 L680.0,405.6 L683.0,405.6 L686.0,405.5 L689.0,405.4 L692.0,405.3 L695.0,405.2 L698.0,405.1 L701.0,405.1 L704.0,405.0 L707.0,405.0 L710.0,405.0 L713.0,405.0 L716.0,405.1 L719.0,405.2 L722.0,405.3 L725.0,405.4 L728.0,405.6 L731.0,405.8 L734.0,406.0 L737.0,406.1 L740.0,406.3 L743.0,406.6 L746.0,406.7 L749.0,406.9 L752.0,407.1 L755.0,407.4 L758.0,407.6 L761.0,407.9 L764.0,408.2 L767.0,408.5 L770.0,408.8 L773.0,409.1 L776.0,409.3 L779.0,409.6 L782.0,409.8 L785.0,409.9 L788.0,410.0 L791.0,410.0 L794.0,409.9 L797.0,409.6 L800.0,409.3 L803.0,408.9 L806.0,408.5 L809.0,408.1 L812.0,407.7 L815.0,407.4 L818.0,407.1 L821.0,407.0 L824.0,407.0 L824.5,407.0 L824.5,407.0 L824.5,530.0 L98.0,530.0 L98.0,430.0Z" fill="#9dcee3"/>
<path d="M98.0,440.0 L101.0,440.0 L104.0,440.1 L107.0,440.3 L110.0,440.7 L113.0,441.1 L116.0,441.6 L119.0,442.1 L122.0,442.7 L125.0,443.3 L128.0,443.9 L131.0,444.5 L134.0,445.0 L137.0,445.6 L140.0,446.0 L143.0,446.4 L146.0,446.8 L149.0,447.2 L152.0,447.5 L155.0,447.9 L158.0,448.3 L161.0,448.6 L164.0,449.0 L167.0,449.3 L170.0,449.7 L173.0,450.1 L176.0,450.5 L179.0,450.9 L182.0,451.3 L185.0,451.8 L188.0,452.3 L191.0,452.9 L194.0,453.5 L197.0,454.1 L200.0,454.7 L203.0,455.2 L206.0,455.7 L209.0,456.2 L212.0,456.6 L215.0,456.8 L218.0,457.0 L221.0,457.0 L224.0,457.0 L227.0,456.9 L230.0,456.7 L233.0,456.6 L236.0,456.4 L239.0,456.2 L242.0,455.9 L245.0,455.6 L248.0,455.3 L251.0,455.0 L254.0,454.7 L257.0,454.3 L260.0,454.0 L263.0,453.6 L266.0,453.2 L269.0,452.6 L272.0,452.1 L275.0,451.4 L278.0,450.7 L281.0,450.0 L284.0,449.1 L287.0,448.3 L290.0,447.4 L293.0,446.4 L296.0,445.4 L299.0,444.4 L302.0,443.2 L305.0,441.7 L308.0,439.9 L311.0,438.1 L314.0,436.2 L317.0,434.5 L320.0,433.0 L323.0,431.7 L326.0,430.5 L329.0,429.3 L332.0,428.1 L335.0,427.0 L338.0,425.9 L341.0,424.9 L344.0,423.9 L347.0,422.9 L350.0,422.0 L353.0,421.0 L356.0,420.1 L359.0,419.3 L362.0,418.5 L365.0,417.7 L368.0,417.0 L371.0,416.2 L374.0,415.5 L377.0,414.7 L380.0,413.9 L383.0,413.1 L386.0,412.3 L389.0,411.3 L392.0,410.3 L395.0,409.1 L398.0,407.8 L401.0,406.6 L404.0,405.0 L407.0,403.6 L410.0,403.0 L413.0,403.4 L416.0,404.2 L419.0,405.2 L422.0,406.2 L425.0,407.5 L428.0,408.6 L431.0,409.1 L434.0,409.3 L437.0,409.5 L440.0,409.6 L443.0,409.7 L446.0,409.8 L449.0,409.9 L452.0,410.1 L455.0,410.4 L458.0,410.7 L461.0,411.0 L464.0,411.3 L467.0,411.4 L470.0,411.5 L473.0,411.4 L476.0,411.2 L479.0,410.9 L482.0,410.5 L485.0,410.2 L488.0,410.0 L491.0,410.0 L494.0,410.0 L497.0,410.0 L500.0,410.0 L503.0,409.6 L506.0,408.9 L509.0,408.1 L512.0,407.8 L515.0,407.4 L518.0,407.1 L521.0,406.9 L524.0,406.7 L527.0,406.5 L530.0,406.5 L533.0,406.6 L536.0,406.7 L539.0,407.0 L542.0,407.2 L545.0,407.5 L548.0,407.8 L551.0,408.1 L554.0,408.4 L557.0,408.5 L560.0,408.6 L563.0,408.6 L566.0,408.7 L569.0,408.7 L572.0,408.8 L575.0,408.9 L578.0,408.9 L581.0,409.1 L584.0,409.4 L587.0,410.1 L590.0,410.9 L593.0,412.0 L596.0,413.1 L599.0,414.3 L602.0,415.5 L605.0,416.7 L608.0,417.7 L611.0,418.6 L614.0,419.4 L617.0,419.8 L620.0,420.0 L623.0,420.0 L626.0,420.0 L629.0,419.9 L632.0,419.8 L635.0,419.8 L638.0,419.7 L641.0,419.6 L644.0,419.5 L647.0,419.4 L650.0,419.3 L653.0,419.2 L656.0,419.1 L659.0,419.0 L662.0,419.0 L665.0,418.9 L668.0,418.8 L671.0,418.7 L674.0,418.6 L677.0,418.6 L680.0,418.5 L683.0,418.4 L686.0,418.3 L689.0,418.3 L692.0,418.2 L695.0,418.1 L698.0,418.1 L701.0,418.1 L704.0,418.0 L707.0,418.0 L710.0,418.0 L713.0,418.0 L716.0,418.1 L719.0,418.2 L722.0,418.3 L725.0,418.4 L728.0,418.6 L731.0,418.8 L734.0,419.0 L737.0,419.1 L740.0,419.3 L743.0,419.6 L746.0,419.7 L749.0,419.9 L752.0,420.1 L755.0,420.4 L758.0,420.6 L761.0,420.9 L764.0,421.2 L767.0,421.5 L770.0,421.8 L773.0,422.1 L776.0,422.3 L779.0,422.6 L782.0,422.8 L785.0,422.9 L788.0,423.0 L791.0,423.0 L794.0,422.9 L797.0,422.6 L800.0,422.3 L803.0,421.9 L806.0,421.5 L809.0,421.1 L812.0,420.7 L815.0,420.4 L818.0,420.1 L821.0,420.0 L824.0,420.0 L824.5,420.0 L824.5,420.0 L824.5,530.0 L98.0,530.0 L98.0,440.0Z" fill="#b9e0ed"/>
<path d="M98.0,449.0 L101.0,449.0 L104.0,449.1 L107.0,449.4 L110.0,449.7 L113.0,450.1 L116.0,450.7 L119.0,451.2 L122.0,451.8 L125.0,452.4 L128.0,453.0 L131.0,453.6 L134.0,454.1 L137.0,454.6 L140.0,455.0 L143.0,455.3 L146.0,455.7 L149.0,456.0 L152.0,456.3 L155.0,456.6 L158.0,456.9 L161.0,457.1 L164.0,457.4 L167.0,457.7 L170.0,458.0 L173.0,458.3 L176.0,458.6 L179.0,458.9 L182.0,459.2 L185.0,459.6 L188.0,460.1 L191.0,460.6 L194.0,461.1 L197.0,461.6 L200.0,462.1 L203.0,462.5 L206.0,462.9 L209.0,463.3 L212.0,463.6 L215.0,463.8 L218.0,464.0 L221.0,464.0 L224.0,464.0 L227.0,463.9 L230.0,463.8 L233.0,463.6 L236.0,463.4 L239.0,463.2 L242.0,462.9 L245.0,462.6 L248.0,462.3 L251.0,462.0 L254.0,461.7 L257.0,461.4 L260.0,461.0 L263.0,460.6 L266.0,460.1 L269.0,459.6 L272.0,458.9 L275.0,458.2 L278.0,457.4 L281.0,456.6 L284.0,455.7 L287.0,454.7 L290.0,453.7 L293.0,452.6 L296.0,451.5 L299.0,450.4 L302.0,449.1 L305.0,447.5 L308.0,445.6 L311.0,443.5 L314.0,441.5 L317.0,439.6 L320.0,438.0 L323.0,436.6 L326.0,435.3 L329.0,434.1 L332.0,432.9 L335.0,431.7 L338.0,430.6 L341.0,429.6 L344.0,428.5 L347.0,427.5 L350.0,426.5 L353.0,425.5 L356.0,424.4 L359.0,423.4 L362.0,422.3 L365.0,421.2 L368.0,420.1 L371.0,419.2 L374.0,418.4 L377.0,417.7 L380.0,417.0 L383.0,416.4 L386.0,415.6 L389.0,414.8 L392.0,413.8 L395.0,412.6 L398.0,411.3 L401.0,410.1 L404.0,408.5 L407.0,407.1 L410.0,406.5 L413.0,407.0 L416.0,408.2 L419.0,409.6 L422.0,410.9 L425.0,412.6 L428.0,414.0 L431.0,414.6 L434.0,415.0 L437.0,415.2 L440.0,415.4 L443.0,415.5 L446.0,415.7 L449.0,415.9 L452.0,416.2 L455.0,416.6 L458.0,417.0 L461.0,417.3 L464.0,417.7 L467.0,417.9 L470.0,418.0 L473.0,417.9 L476.0,417.7 L479.0,417.4 L482.0,417.1 L485.0,416.7 L488.0,416.3 L491.0,415.9 L494.0,415.5 L497.0,415.0 L500.0,414.5 L503.0,413.8 L506.0,412.9 L509.0,412.2 L512.0,411.8 L515.0,411.4 L518.0,411.1 L521.0,410.9 L524.0,410.7 L527.0,410.5 L530.0,410.5 L533.0,410.5 L536.0,410.6 L539.0,410.6 L542.0,410.7 L545.0,410.8 L548.0,411.0 L551.0,411.1 L554.0,411.3 L557.0,411.5 L560.0,411.8 L563.0,412.3 L566.0,413.0 L569.0,413.8 L572.0,414.7 L575.0,415.6 L578.0,416.4 L581.0,417.3 L584.0,418.2 L587.0,419.3 L590.0,420.5 L593.0,421.7 L596.0,423.0 L599.0,424.2 L602.0,425.4 L605.0,426.6 L608.0,427.6 L611.0,428.5 L614.0,429.2 L617.0,429.7 L620.0,430.0 L623.0,430.1 L626.0,430.3 L629.0,430.4 L632.0,430.5 L635.0,430.6 L638.0,430.7 L641.0,430.8 L644.0,430.8 L647.0,430.9 L650.0,430.9 L653.0,431.0 L656.0,431.0 L659.0,431.0 L662.0,431.0 L665.0,431.0 L668.0,430.9 L671.0,430.9 L674.0,430.8 L677.0,430.7 L680.0,430.6 L683.0,430.6 L686.0,430.5 L689.0,430.4 L692.0,430.3 L695.0,430.2 L698.0,430.1 L701.0,430.1 L704.0,430.0 L707.0,430.0 L710.0,430.0 L713.0,430.0 L716.0,430.1 L719.0,430.2 L722.0,430.3 L725.0,430.4 L728.0,430.6 L731.0,430.8 L734.0,431.0 L737.0,431.1 L740.0,431.3 L743.0,431.6 L746.0,431.7 L749.0,431.9 L752.0,432.1 L755.0,432.4 L758.0,432.6 L761.0,432.9 L764.0,433.2 L767.0,433.5 L770.0,433.8 L773.0,434.1 L776.0,434.3 L779.0,434.6 L782.0,434.8 L785.0,434.9 L788.0,435.0 L791.0,435.0 L794.0,434.8 L797.0,434.5 L800.0,434.1 L803.0,433.6 L806.0,433.0 L809.0,432.4 L812.0,431.9 L815.0,431.5 L818.0,431.2 L821.0,431.0 L824.0,431.0 L824.5,431.0 L824.5,431.0 L824.5,530.0 L98.0,530.0 L98.0,449.0Z" fill="#d4edf4"/>
<path d="M98.0,459.0 L101.0,459.0 L104.0,459.1 L107.0,459.3 L110.0,459.6 L113.0,460.0 L116.0,460.4 L119.0,460.9 L122.0,461.4 L125.0,461.9 L128.0,462.4 L131.0,462.8 L134.0,463.3 L137.0,463.7 L140.0,464.0 L143.0,464.3 L146.0,464.5 L149.0,464.7 L152.0,465.0 L155.0,465.2 L158.0,465.4 L161.0,465.6 L164.0,465.8 L167.0,466.0 L170.0,466.2 L173.0,466.4 L176.0,466.6 L179.0,466.9 L182.0,467.2 L185.0,467.6 L188.0,468.0 L191.0,468.5 L194.0,469.0 L197.0,469.5 L200.0,470.0 L203.0,470.4 L206.0,470.9 L209.0,471.3 L212.0,471.6 L215.0,471.8 L218.0,472.0 L221.0,472.0 L224.0,471.9 L227.0,471.8 L230.0,471.7 L233.0,471.4 L236.0,471.2 L239.0,470.9 L242.0,470.5 L245.0,470.1 L248.0,469.7 L251.0,469.3 L254.0,468.9 L257.0,468.4 L260.0,468.0 L263.0,467.5 L266.0,466.9 L269.0,466.3 L272.0,465.6 L275.0,464.8 L278.0,464.0 L281.0,463.1 L284.0,462.1 L287.0,461.1 L290.0,460.0 L293.0,458.9 L296.0,457.7 L299.0,456.4 L302.0,455.0 L305.0,453.2 L308.0,451.1 L311.0,448.9 L314.0,446.7 L317.0,444.7 L320.0,443.0 L323.0,441.6 L326.0,440.3 L329.0,439.1 L332.0,438.0 L335.0,436.9 L338.0,435.9 L341.0,434.9 L344.0,433.9 L347.0,432.9 L350.0,431.9 L353.0,430.8 L356.0,429.7 L359.0,428.4 L362.0,427.0 L365.0,425.4 L368.0,423.8 L371.0,422.7 L374.0,421.9 L377.0,421.2 L380.0,420.7 L383.0,420.1 L386.0,419.5 L389.0,418.8 L392.0,417.8 L395.0,416.3 L398.0,415.0 L401.0,414.3 L404.0,413.9 L407.0,413.6 L410.0,413.5 L413.0,413.8 L416.0,414.6 L419.0,415.7 L422.0,416.9 L425.0,418.7 L428.0,420.4 L431.0,421.1 L434.0,421.5 L437.0,421.7 L440.0,421.9 L443.0,422.1 L446.0,422.2 L449.0,422.4 L452.0,422.7 L455.0,422.9 L458.0,423.2 L461.0,423.5 L464.0,423.8 L467.0,423.9 L470.0,424.0 L473.0,423.9 L476.0,423.6 L479.0,423.1 L482.0,422.6 L485.0,422.0 L488.0,421.4 L491.0,420.8 L494.0,420.3 L497.0,419.7 L500.0,419.0 L503.0,418.1 L506.0,417.1 L509.0,416.2 L512.0,415.7 L515.0,415.2 L518.0,414.8 L521.0,414.5 L524.0,414.2 L527.0,414.1 L530.0,414.0 L533.0,414.0 L536.0,414.0 L539.0,414.1 L542.0,414.1 L545.0,414.2 L548.0,414.2 L551.0,414.3 L554.0,414.4 L557.0,414.5 L560.0,414.9 L563.0,415.7 L566.0,416.9 L569.0,418.4 L572.0,420.0 L575.0,421.6 L578.0,423.1 L581.0,424.4 L584.0,425.8 L587.0,427.3 L590.0,428.8 L593.0,430.4 L596.0,432.0 L599.0,433.5 L602.0,435.0 L605.0,436.5 L608.0,437.7 L611.0,438.9 L614.0,439.8 L617.0,440.5 L620.0,441.0 L623.0,441.3 L626.0,441.6 L629.0,441.9 L632.0,442.2 L635.0,442.4 L638.0,442.7 L641.0,442.9 L644.0,443.0 L647.0,443.2 L650.0,443.3 L653.0,443.4 L656.0,443.5 L659.0,443.5 L662.0,443.5 L665.0,443.4 L668.0,443.3 L671.0,443.2 L674.0,443.0 L677.0,442.8 L680.0,442.6 L683.0,442.4 L686.0,442.2 L689.0,442.0 L692.0,441.7 L695.0,441.5 L698.0,441.4 L701.0,441.2 L704.0,441.1 L707.0,441.0 L710.0,441.0 L713.0,441.0 L716.0,441.1 L719.0,441.2 L722.0,441.3 L725.0,441.4 L728.0,441.6 L731.0,441.7 L734.0,441.9 L737.0,442.1 L740.0,442.3 L743.0,442.5 L746.0,442.7 L749.0,442.9 L752.0,443.1 L755.0,443.4 L758.0,443.8 L761.0,444.1 L764.0,444.5 L767.0,444.9 L770.0,445.3 L773.0,445.7 L776.0,446.1 L779.0,446.4 L782.0,446.7 L785.0,446.9 L788.0,447.0 L791.0,447.0 L794.0,446.8 L797.0,446.5 L800.0,446.1 L803.0,445.6 L806.0,445.0 L809.0,444.4 L812.0,443.9 L815.0,443.5 L818.0,443.2 L821.0,443.0 L824.0,443.0 L824.5,443.0 L824.5,443.0 L824.5,530.0 L98.0,530.0 L98.0,459.0Z" fill="#e7f6eb"/>
<path d="M98.0,468.0 L101.0,468.1 L104.0,468.7 L107.0,469.5 L110.0,470.4 L113.0,471.3 L116.0,472.5 L119.0,473.7 L122.0,475.0 L125.0,476.5 L128.0,478.3 L131.0,480.2 L134.0,482.7 L137.0,485.2 L140.0,486.6 L143.0,487.2 L146.0,487.7 L149.0,488.2 L152.0,488.7 L155.0,489.1 L158.0,489.4 L161.0,489.7 L164.0,490.0 L167.0,490.2 L170.0,490.4 L173.0,490.5 L176.0,490.6 L179.0,490.6 L182.0,490.6 L185.0,490.3 L188.0,489.9 L191.0,489.3 L194.0,488.6 L197.0,487.8 L200.0,486.9 L203.0,486.0 L206.0,485.0 L209.0,484.0 L212.0,483.1 L215.0,482.2 L218.0,481.5 L221.0,480.8 L224.0,480.2 L227.0,479.6 L230.0,479.0 L233.0,478.4 L236.0,477.9 L239.0,477.3 L242.0,476.8 L245.0,476.2 L248.0,475.6 L251.0,475.0 L254.0,474.4 L257.0,473.7 L260.0,473.0 L263.0,472.2 L266.0,471.5 L269.0,470.6 L272.0,469.8 L275.0,468.9 L278.0,468.0 L281.0,467.0 L284.0,466.0 L287.0,465.0 L290.0,463.9 L293.0,462.8 L296.0,461.6 L299.0,460.4 L302.0,459.1 L305.0,457.5 L308.0,455.8 L311.0,454.0 L314.0,452.2 L317.0,450.5 L320.0,449.0 L323.0,447.6 L326.0,446.4 L329.0,445.2 L332.0,444.1 L335.0,443.0 L338.0,441.9 L341.0,440.9 L344.0,439.8 L347.0,438.7 L350.0,437.5 L353.0,436.3 L356.0,435.0 L359.0,433.5 L362.0,431.8 L365.0,429.5 L368.0,427.5 L371.0,426.2 L374.0,425.3 L377.0,424.6 L380.0,424.0 L383.0,423.5 L386.0,422.9 L389.0,422.3 L392.0,421.4 L395.0,420.2 L398.0,419.2 L401.0,419.0 L404.0,419.2 L407.0,419.6 L410.0,420.2 L413.0,421.5 L416.0,423.6 L419.0,426.1 L422.0,428.5 L425.0,431.5 L428.0,433.9 L431.0,434.4 L434.0,433.9 L437.0,432.8 L440.0,431.5 L443.0,430.2 L446.0,429.1 L449.0,428.5 L452.0,428.5 L455.0,428.7 L458.0,428.9 L461.0,429.1 L464.0,429.3 L467.0,429.4 L470.0,429.5 L473.0,429.4 L476.0,429.0 L479.0,428.4 L482.0,427.7 L485.0,426.9 L488.0,426.2 L491.0,425.5 L494.0,424.7 L497.0,423.9 L500.0,423.0 L503.0,421.9 L506.0,420.7 L509.0,419.7 L512.0,419.1 L515.0,418.6 L518.0,418.1 L521.0,417.6 L524.0,417.3 L527.0,417.1 L530.0,417.0 L533.0,417.3 L536.0,418.1 L539.0,419.4 L542.0,420.9 L545.0,422.5 L548.0,424.1 L551.0,425.6 L554.0,426.9 L557.0,427.7 L560.0,428.3 L563.0,428.7 L566.0,429.1 L569.0,429.4 L572.0,429.8 L575.0,430.1 L578.0,430.6 L581.0,431.2 L584.0,432.2 L587.0,433.4 L590.0,434.9 L593.0,436.6 L596.0,438.4 L599.0,440.3 L602.0,442.1 L605.0,444.0 L608.0,445.7 L611.0,447.2 L614.0,448.4 L617.0,449.4 L620.0,450.0 L623.0,450.4 L626.0,450.7 L629.0,451.1 L632.0,451.4 L635.0,451.7 L638.0,452.0 L641.0,452.2 L644.0,452.4 L647.0,452.6 L650.0,452.8 L653.0,452.9 L656.0,453.0 L659.0,453.0 L662.0,453.0 L665.0,452.9 L668.0,452.9 L671.0,452.8 L674.0,452.6 L677.0,452.5 L680.0,452.3 L683.0,452.1 L686.0,451.9 L689.0,451.8 L692.0,451.6 L695.0,451.4 L698.0,451.3 L701.0,451.2 L704.0,451.1 L707.0,451.0 L710.0,451.0 L713.0,451.0 L716.0,451.1 L719.0,451.3 L722.0,451.4 L725.0,451.6 L728.0,451.9 L731.0,452.2 L734.0,452.5 L737.0,452.7 L740.0,453.0 L743.0,453.3 L746.0,453.6 L749.0,453.9 L752.0,454.2 L755.0,454.5 L758.0,454.9 L761.0,455.2 L764.0,455.6 L767.0,456.0 L770.0,456.4 L773.0,456.8 L776.0,457.1 L779.0,457.4 L782.0,457.7 L785.0,457.9 L788.0,458.0 L791.0,458.0 L794.0,457.8 L797.0,457.4 L800.0,456.8 L803.0,456.2 L806.0,455.5 L809.0,454.8 L812.0,454.2 L815.0,453.6 L818.0,453.2 L821.0,453.0 L824.0,453.0 L824.5,453.0 L824.5,453.0 L824.5,530.0 L98.0,530.0 L98.0,468.0Z" fill="#f7fcce"/>
<path d="M98.0,476.0 L101.0,476.1 L104.0,476.7 L107.0,478.0 L110.0,481.3 L113.0,488.3 L116.0,499.0 L119.0,498.3 L122.0,497.0 L125.0,495.3 L128.0,493.3 L131.0,491.4 L134.0,489.3 L137.0,487.4 L140.0,486.6 L143.0,486.6 L146.0,486.8 L149.0,487.0 L152.0,487.3 L155.0,487.7 L158.0,488.1 L161.0,488.5 L164.0,488.9 L167.0,489.3 L170.0,489.7 L173.0,490.1 L176.0,490.3 L179.0,490.6 L182.0,490.7 L185.0,490.9 L188.0,491.0 L191.0,491.2 L194.0,491.3 L197.0,491.4 L200.0,491.6 L203.0,491.7 L206.0,491.8 L209.0,491.8 L212.0,491.9 L215.0,492.0 L218.0,492.0 L221.0,492.0 L224.0,491.8 L227.0,491.5 L230.0,491.1 L233.0,490.5 L236.0,489.9 L239.0,489.1 L242.0,488.3 L245.0,487.4 L248.0,486.6 L251.0,485.6 L254.0,484.7 L257.0,483.8 L260.0,483.0 L263.0,482.2 L266.0,481.3 L269.0,480.4 L272.0,479.5 L275.0,478.5 L278.0,477.5 L281.0,476.5 L284.0,475.4 L287.0,474.3 L290.0,473.1 L293.0,471.9 L296.0,470.7 L299.0,469.4 L302.0,468.1 L305.0,466.5 L308.0,464.8 L311.0,463.0 L314.0,461.2 L317.0,459.5 L320.0,458.0 L323.0,456.6 L326.0,455.4 L329.0,454.2 L332.0,453.0 L335.0,451.9 L338.0,450.9 L341.0,449.8 L344.0,448.7 L347.0,447.6 L350.0,446.4 L353.0,445.2 L356.0,443.9 L359.0,442.5 L362.0,440.9 L365.0,439.1 L368.0,437.2 L371.0,435.4 L374.0,433.5 L377.0,431.6 L380.0,429.6 L383.0,427.9 L386.0,426.7 L389.0,426.0 L392.0,426.2 L395.0,427.0 L398.0,427.8 L401.0,427.8 L404.0,425.3 L407.0,421.9 L410.0,420.2 L413.0,421.2 L416.0,423.5 L419.0,426.0 L422.0,428.3 L425.0,430.8 L428.0,433.1 L431.0,435.1 L434.0,437.1 L437.0,439.2 L440.0,441.1 L443.0,442.7 L446.0,443.9 L449.0,444.5 L452.0,444.4 L455.0,443.6 L458.0,442.3 L461.0,440.7 L464.0,439.1 L467.0,437.6 L470.0,436.5 L473.0,435.7 L476.0,434.9 L479.0,434.2 L482.0,433.5 L485.0,432.9 L488.0,432.2 L491.0,431.4 L494.0,430.7 L497.0,429.8 L500.0,429.0 L503.0,428.1 L506.0,427.1 L509.0,426.3 L512.0,425.5 L515.0,424.7 L518.0,423.9 L521.0,423.2 L524.0,422.6 L527.0,422.1 L530.0,422.0 L533.0,422.1 L536.0,422.4 L539.0,422.8 L542.0,423.4 L545.0,424.1 L548.0,424.9 L551.0,425.8 L554.0,426.7 L557.0,427.7 L560.0,429.2 L563.0,431.5 L566.0,434.2 L569.0,437.3 L572.0,440.4 L575.0,443.4 L578.0,446.0 L581.0,448.1 L584.0,450.0 L587.0,452.0 L590.0,453.9 L593.0,455.9 L596.0,457.7 L599.0,459.4 L602.0,461.1 L605.0,462.6 L608.0,463.9 L611.0,465.0 L614.0,465.9 L617.0,466.6 L620.0,467.0 L623.0,467.2 L626.0,467.4 L629.0,467.5 L632.0,467.6 L635.0,467.7 L638.0,467.9 L641.0,468.1 L644.0,468.3 L647.0,468.6 L650.0,468.9 L653.0,469.2 L656.0,469.5 L659.0,469.9 L662.0,470.3 L665.0,470.7 L668.0,471.2 L671.0,471.8 L674.0,472.5 L677.0,473.1 L680.0,473.8 L683.0,474.5 L686.0,475.1 L689.0,475.7 L692.0,476.3 L695.0,476.9 L698.0,477.3 L701.0,477.7 L704.0,478.0 L707.0,478.2 L710.0,478.3 L713.0,478.2 L716.0,478.1 L719.0,477.8 L722.0,477.5 L725.0,477.1 L728.0,476.7 L731.0,476.3 L734.0,475.8 L737.0,475.3 L740.0,474.8 L743.0,474.4 L746.0,474.0 L749.0,473.6 L752.0,473.3 L755.0,473.0 L758.0,472.8 L761.0,472.5 L764.0,472.3 L767.0,472.0 L770.0,471.8 L773.0,471.5 L776.0,471.3 L779.0,471.0 L782.0,470.8 L785.0,470.5 L788.0,470.2 L791.0,469.9 L794.0,469.5 L797.0,469.1 L800.0,468.6 L803.0,468.1 L806.0,467.6 L809.0,467.1 L812.0,466.7 L815.0,466.4 L818.0,466.1 L821.0,466.0 L824.0,466.0 L824.5,466.0 L824.5,466.0 L824.5,530.0 L98.0,530.0 L98.0,476.0Z" fill="#fffbb9"/>
<path d="M98.0,504.7 L101.0,505.3 L104.0,506.5 L107.0,507.3 L110.0,506.2 L113.0,504.2 L116.0,501.2 L119.0,498.5 L122.0,495.8 L125.0,493.3 L128.0,491.0 L131.0,489.4 L134.0,488.0 L137.0,487.0 L140.0,486.6 L143.0,486.6 L146.0,486.8 L149.0,487.0 L152.0,487.3 L155.0,487.7 L158.0,488.1 L161.0,488.5 L164.0,488.9 L167.0,489.3 L170.0,489.7 L173.0,490.1 L176.0,490.3 L179.0,490.6 L182.0,490.7 L185.0,490.8 L188.0,491.0 L191.0,491.1 L194.0,491.2 L197.0,491.2 L200.0,491.3 L203.0,491.4 L206.0,491.5 L209.0,491.6 L212.0,491.7 L215.0,491.8 L218.0,491.9 L221.0,492.0 L224.0,492.3 L227.0,492.5 L230.0,492.8 L233.0,493.2 L236.0,493.5 L239.0,493.9 L242.0,494.3 L245.0,494.6 L248.0,494.9 L251.0,495.2 L254.0,495.4 L257.0,495.5 L260.0,495.6 L263.0,495.4 L266.0,495.0 L269.0,494.3 L272.0,493.5 L275.0,492.4 L278.0,491.3 L281.0,490.1 L284.0,488.8 L287.0,487.5 L290.0,486.3 L293.0,485.2 L296.0,484.1 L299.0,483.2 L302.0,482.5 L305.0,481.9 L308.0,481.4 L311.0,480.9 L314.0,480.3 L317.0,479.7 L320.0,479.0 L323.0,478.2 L326.0,477.3 L329.0,476.3 L332.0,475.2 L335.0,474.0 L338.0,472.8 L341.0,471.5 L344.0,470.2 L347.0,468.8 L350.0,467.3 L353.0,465.8 L356.0,464.2 L359.0,462.6 L362.0,460.8 L365.0,458.8 L368.0,456.5 L371.0,454.3 L374.0,452.0 L377.0,449.6 L380.0,447.1 L383.0,444.6 L386.0,442.0 L389.0,439.3 L392.0,436.4 L395.0,433.1 L398.0,429.9 L401.0,427.1 L404.0,424.0 L407.0,421.3 L410.0,420.2 L413.0,421.2 L416.0,423.5 L419.0,426.0 L422.0,428.3 L425.0,430.8 L428.0,433.1 L431.0,435.1 L434.0,437.1 L437.0,439.2 L440.0,441.1 L443.0,442.7 L446.0,443.9 L449.0,444.5 L452.0,444.5 L455.0,444.4 L458.0,444.2 L461.0,443.9 L464.0,443.6 L467.0,443.3 L470.0,443.0 L473.0,442.7 L476.0,442.3 L479.0,441.9 L482.0,441.5 L485.0,441.2 L488.0,441.0 L491.0,441.0 L494.0,441.3 L497.0,441.6 L500.0,442.0 L503.0,442.3 L506.0,442.6 L509.0,442.9 L512.0,443.1 L515.0,443.4 L518.0,443.6 L521.0,443.7 L524.0,443.9 L527.0,444.0 L530.0,444.0 L533.0,443.5 L536.0,442.0 L539.0,439.8 L542.0,437.2 L545.0,434.5 L548.0,432.0 L551.0,429.8 L554.0,428.3 L557.0,427.7 L560.0,428.4 L563.0,430.2 L566.0,432.9 L569.0,436.1 L572.0,439.5 L575.0,442.9 L578.0,445.9 L581.0,448.2 L584.0,450.2 L587.0,452.3 L590.0,454.3 L593.0,456.2 L596.0,458.0 L599.0,459.9 L602.0,461.6 L605.0,463.3 L608.0,465.0 L611.0,466.6 L614.0,468.1 L617.0,469.6 L620.0,471.0 L623.0,472.4 L626.0,473.8 L629.0,475.1 L632.0,476.3 L635.0,477.5 L638.0,478.4 L641.0,479.3 L644.0,480.1 L647.0,480.9 L650.0,481.6 L653.0,482.2 L656.0,482.7 L659.0,482.9 L662.0,482.9 L665.0,482.8 L668.0,482.7 L671.0,482.5 L674.0,482.3 L677.0,482.1 L680.0,481.8 L683.0,481.5 L686.0,481.1 L689.0,480.8 L692.0,480.4 L695.0,480.1 L698.0,479.7 L701.0,479.3 L704.0,479.0 L707.0,478.6 L710.0,478.3 L713.0,477.9 L716.0,477.5 L719.0,477.1 L722.0,476.6 L725.0,476.2 L728.0,475.7 L731.0,475.2 L734.0,474.8 L737.0,474.4 L740.0,474.1 L743.0,473.8 L746.0,473.6 L749.0,473.5 L752.0,473.6 L755.0,474.0 L758.0,474.6 L761.0,475.4 L764.0,476.4 L767.0,477.5 L770.0,478.7 L773.0,479.9 L776.0,481.1 L779.0,482.1 L782.0,483.1 L785.0,483.8 L788.0,484.3 L791.0,484.6 L794.0,484.7 L797.0,484.9 L800.0,485.0 L803.0,485.2 L806.0,485.3 L809.0,485.4 L812.0,485.5 L815.0,485.5 L818.0,485.6 L821.0,485.6 L824.0,485.4 L824.5,485.4 L824.5,485.4 L824.5,530.0 L98.0,530.0 L98.0,504.7Z" fill="#fff3ad"/>
<path d="M98.0,504.7 L101.0,505.3 L104.0,506.5 L107.0,507.3 L110.0,506.2 L113.0,504.2 L116.0,501.2 L119.0,498.5 L122.0,495.8 L125.0,493.3 L128.0,491.0 L131.0,489.4 L134.0,488.0 L137.0,487.0 L140.0,486.6 L143.0,486.6 L146.0,486.8 L149.0,487.0 L152.0,487.3 L155.0,487.7 L158.0,488.1 L161.0,488.5 L164.0,488.9 L167.0,489.3 L170.0,489.7 L173.0,490.1 L176.0,490.3 L179.0,490.6 L182.0,490.7 L185.0,490.8 L188.0,491.0 L191.0,491.1 L194.0,491.2 L197.0,491.2 L200.0,491.3 L203.0,491.4 L206.0,491.5 L209.0,491.6 L212.0,491.7 L215.0,491.8 L218.0,491.9 L221.0,492.0 L224.0,492.3 L227.0,492.5 L230.0,492.8 L233.0,493.2 L236.0,493.5 L239.0,493.9 L242.0,494.3 L245.0,494.6 L248.0,494.9 L251.0,495.2 L254.0,495.4 L257.0,495.5 L260.0,495.6 L263.0,495.4 L266.0,495.0 L269.0,494.3 L272.0,493.5 L275.0,492.4 L278.0,491.3 L281.0,490.1 L284.0,488.8 L287.0,487.5 L290.0,486.3 L293.0,485.2 L296.0,484.1 L299.0,483.2 L302.0,482.5 L305.0,481.9 L308.0,481.4 L311.0,480.9 L314.0,480.3 L317.0,479.7 L320.0,479.0 L323.0,478.2 L326.0,477.3 L329.0,476.3 L332.0,475.2 L335.0,474.0 L338.0,472.8 L341.0,471.5 L344.0,470.2 L347.0,468.8 L350.0,467.3 L353.0,465.8 L356.0,464.2 L359.0,462.6 L362.0,460.8 L365.0,458.8 L368.0,456.5 L371.0,454.3 L374.0,452.0 L377.0,449.6 L380.0,447.1 L383.0,444.6 L386.0,442.0 L389.0,439.3 L392.0,436.4 L395.0,433.1 L398.0,429.9 L401.0,427.1 L404.0,424.0 L407.0,421.3 L410.0,420.2 L413.0,421.2 L416.0,423.5 L419.0,426.0 L422.0,428.3 L425.0,430.8 L428.0,433.1 L431.0,435.1 L434.0,436.9 L437.0,438.5 L440.0,440.0 L443.0,441.5 L446.0,442.8 L449.0,444.1 L452.0,445.4 L455.0,446.6 L458.0,447.8 L461.0,448.9 L464.0,450.0 L467.0,450.9 L470.0,451.8 L473.0,452.7 L476.0,453.6 L479.0,454.5 L482.0,455.2 L485.0,455.8 L488.0,456.2 L491.0,456.0 L494.0,453.0 L497.0,449.0 L500.0,447.0 L503.0,449.3 L506.0,453.8 L509.0,457.2 L512.0,457.2 L515.0,456.0 L518.0,454.0 L521.0,451.5 L524.0,448.8 L527.0,446.2 L530.0,444.0 L533.0,441.9 L536.0,439.6 L539.0,437.2 L542.0,434.9 L545.0,432.6 L548.0,430.7 L551.0,429.1 L554.0,428.1 L557.0,427.7 L560.0,428.4 L563.0,430.2 L566.0,432.9 L569.0,436.1 L572.0,439.5 L575.0,442.9 L578.0,445.9 L581.0,448.2 L584.0,450.2 L587.0,452.3 L590.0,454.3 L593.0,456.2 L596.0,458.0 L599.0,459.9 L602.0,461.6 L605.0,463.3 L608.0,465.0 L611.0,466.6 L614.0,468.1 L617.0,469.6 L620.0,471.0 L623.0,472.4 L626.0,473.8 L629.0,475.1 L632.0,476.3 L635.0,477.5 L638.0,478.4 L641.0,479.3 L644.0,480.1 L647.0,480.9 L650.0,481.6 L653.0,482.2 L656.0,482.7 L659.0,482.9 L662.0,482.9 L665.0,482.8 L668.0,482.7 L671.0,482.5 L674.0,482.3 L677.0,482.1 L680.0,481.8 L683.0,481.5 L686.0,481.1 L689.0,480.8 L692.0,480.4 L695.0,480.1 L698.0,479.7 L701.0,479.3 L704.0,479.0 L707.0,478.6 L710.0,478.3 L713.0,477.9 L716.0,477.5 L719.0,477.1 L722.0,476.6 L725.0,476.2 L728.0,475.7 L731.0,475.2 L734.0,474.8 L737.0,474.4 L740.0,474.1 L743.0,473.8 L746.0,473.6 L749.0,473.5 L752.0,473.6 L755.0,474.0 L758.0,474.6 L761.0,475.4 L764.0,476.4 L767.0,477.5 L770.0,478.7 L773.0,479.9 L776.0,481.1 L779.0,482.1 L782.0,483.1 L785.0,483.8 L788.0,484.3 L791.0,484.6 L794.0,484.7 L797.0,484.9 L800.0,485.0 L803.0,485.2 L806.0,485.3 L809.0,485.4 L812.0,485.5 L815.0,485.5 L818.0,485.6 L821.0,485.6 L824.0,485.4 L824.5,485.4 L824.5,485.4 L824.5,530.0 L98.0,530.0 L98.0,504.7Z" fill="#feeba1"/>
</g>
<g fill="none" stroke="#000" stroke-width="1.30" stroke-linejoin="round">
<path d="M98.0,180.0 L101.0,180.0 L104.0,180.1 L107.0,180.3 L110.0,180.6 L113.0,181.0 L116.0,181.4 L119.0,181.8 L122.0,182.4 L125.0,183.5 L128.0,184.8 L131.0,186.2 L134.0,187.7 L137.0,189.0 L140.0,190.0 L143.0,190.7 L146.0,191.3 L149.0,191.8 L152.0,192.3 L155.0,192.9 L158.0,193.5 L161.0,194.3 L164.0,195.3 L167.0,196.4 L170.0,197.7 L173.0,199.0 L176.0,200.3 L179.0,201.6 L182.0,202.8 L185.0,204.0 L188.0,205.3 L191.0,206.6 L194.0,207.8 L197.0,208.9 L200.0,209.9 L203.0,210.8 L206.0,211.4 L209.0,212.0 L212.0,212.5 L215.0,213.0 L218.0,213.5 L221.0,213.9 L224.0,214.3 L227.0,214.6 L230.0,215.0 L233.0,215.4 L236.0,215.8 L239.0,216.2 L242.0,216.6 L245.0,217.0 L248.0,217.3 L251.0,217.6 L254.0,217.8 L257.0,217.9 L260.0,218.0 L263.0,217.9 L266.0,217.7 L269.0,217.4 L272.0,217.1 L275.0,216.7 L278.0,216.3 L281.0,215.9 L284.0,215.4 L287.0,214.9 L290.0,214.4 L293.0,213.8 L296.0,213.2 L299.0,212.6 L302.0,212.0 L305.0,211.2 L308.0,210.5 L311.0,209.6 L314.0,208.8 L317.0,207.9 L320.0,207.0 L323.0,206.1 L326.0,205.2 L329.0,204.3 L332.0,203.4 L335.0,202.5 L338.0,201.6 L341.0,200.7 L344.0,199.8 L347.0,198.9 L350.0,198.0 L353.0,197.1 L356.0,196.3 L359.0,195.4 L362.0,194.6 L365.0,193.8 L368.0,192.9 L371.0,192.1 L374.0,191.3 L377.0,190.4 L380.0,189.6 L383.0,188.7 L386.0,187.8 L389.0,186.9 L392.0,186.0 L395.0,185.2 L398.0,184.5 L401.0,183.8 L404.0,183.2 L407.0,182.6 L410.0,182.0 L413.0,181.2 L416.0,180.2 L419.0,179.2 L422.0,178.1 L425.0,177.0 L428.0,176.1 L431.0,175.2 L434.0,174.6 L437.0,174.0 L440.0,173.6 L443.0,173.1 L446.0,172.7 L449.0,172.2 L452.0,171.7 L455.0,171.0 L458.0,170.1 L461.0,168.9 L464.0,167.6 L467.0,166.1 L470.0,164.7 L473.0,163.3 L476.0,162.1 L479.0,161.0 L482.0,159.8 L485.0,158.7 L488.0,157.6 L491.0,156.5 L494.0,155.6 L497.0,154.7 L500.0,154.0 L503.0,153.3 L506.0,152.7 L509.0,152.1 L512.0,151.5 L515.0,151.0 L518.0,150.6 L521.0,150.3 L524.0,150.0 L527.0,149.9 L530.0,149.8 L533.0,149.7 L536.0,149.7 L539.0,149.6 L542.0,149.6 L545.0,149.5 L548.0,149.5 L551.0,149.5 L554.0,149.5 L557.0,149.5 L560.0,149.5 L563.0,149.5 L564.0,149.5"/>
<path d="M654.0,152.0 L657.0,152.3 L660.0,152.6 L663.0,152.9 L666.0,153.2 L669.0,153.5 L672.0,153.8 L675.0,154.0 L678.0,154.2 L681.0,154.5 L684.0,154.7 L687.0,155.0 L690.0,155.2 L693.0,155.5 L696.0,155.6 L699.0,155.8 L702.0,155.9 L705.0,156.0 L708.0,156.0 L711.0,156.0 L714.0,155.9 L717.0,155.7 L720.0,155.6 L723.0,155.5 L726.0,155.3 L729.0,155.2 L732.0,155.1 L735.0,155.0 L738.0,155.0 L741.0,155.1 L744.0,155.4 L747.0,155.7 L750.0,156.1 L753.0,156.4 L756.0,156.7 L759.0,156.9 L762.0,157.0 L765.0,156.9 L768.0,156.6 L771.0,156.1 L774.0,155.7 L777.0,155.3 L780.0,155.0 L783.0,154.8 L786.0,154.7 L789.0,154.5 L792.0,154.4 L795.0,154.2 L798.0,154.1 L801.0,154.1 L804.0,154.0 L807.0,154.0 L810.0,154.0 L813.0,154.1 L816.0,154.3 L819.0,154.5 L822.0,154.7 L825.0,155.0"/>
<path d="M98.0,229.7 L101.0,230.1 L104.0,230.5 L107.0,230.9 L110.0,231.3 L113.0,231.7 L116.0,232.2 L119.0,232.8 L122.0,233.6 L125.0,235.1 L128.0,236.9 L131.0,238.9 L134.0,240.9 L137.0,242.7 L140.0,244.0 L143.0,244.9 L146.0,245.7 L149.0,246.4 L152.0,247.0 L155.0,247.7 L158.0,248.4 L161.0,249.3 L164.0,250.4 L167.0,251.6 L170.0,252.9 L173.0,254.2 L176.0,255.5 L179.0,256.6 L182.0,257.7 L185.0,258.7 L188.0,259.7 L191.0,260.7 L194.0,261.5 L197.0,262.3 L200.0,263.0 L203.0,263.6 L206.0,264.1 L209.0,264.5 L212.0,265.0 L215.0,265.4 L218.0,265.8 L221.0,266.1 L224.0,266.5 L227.0,266.9 L230.0,267.3 L233.0,267.7 L236.0,268.1 L239.0,268.4 L242.0,268.7 L245.0,268.9 L248.0,269.0 L251.0,269.0 L254.0,269.0 L257.0,268.9 L260.0,268.9 L263.0,268.8 L266.0,268.7 L269.0,268.6 L272.0,268.4 L275.0,268.3 L278.0,268.1 L281.0,267.9 L284.0,267.7 L287.0,267.3 L290.0,266.8 L293.0,266.3 L296.0,265.7 L299.0,265.2 L302.0,264.6 L305.0,264.1 L308.0,263.5 L311.0,262.9 L314.0,262.3 L317.0,261.7 L320.0,261.0 L323.0,260.3 L326.0,259.7 L329.0,259.0 L332.0,258.2 L335.0,257.5 L338.0,256.8 L341.0,256.0 L344.0,255.2 L347.0,254.3 L350.0,253.5 L353.0,252.6 L356.0,251.7 L359.0,250.9 L362.0,250.0 L365.0,249.1 L368.0,248.2 L371.0,247.3 L374.0,246.4 L377.0,245.5 L380.0,244.5 L383.0,243.6 L386.0,242.7 L389.0,241.8 L392.0,240.8 L395.0,239.9 L398.0,239.0 L401.0,238.2 L404.0,237.6 L407.0,237.0 L410.0,236.4 L413.0,235.8 L416.0,235.2 L419.0,234.6 L422.0,233.9 L425.0,233.0 L428.0,231.8 L431.0,230.3 L434.0,228.8 L437.0,227.5 L440.0,226.4 L443.0,225.4 L446.0,224.5 L449.0,223.6 L452.0,222.8 L455.0,222.0 L458.0,221.2 L461.0,220.4 L464.0,219.7 L467.0,219.0 L470.0,218.3 L473.0,217.7 L476.0,217.0 L479.0,216.4 L482.0,215.8 L485.0,215.2 L488.0,214.6 L491.0,214.1 L494.0,213.5 L497.0,213.0 L500.0,212.5 L503.0,212.0 L506.0,211.5 L509.0,211.0 L512.0,210.5 L515.0,210.0 L518.0,209.6 L521.0,209.1 L524.0,208.7 L527.0,208.3 L530.0,207.9 L533.0,207.5 L536.0,207.1 L539.0,206.7 L542.0,206.3 L545.0,206.0 L548.0,205.6 L551.0,205.2 L554.0,204.9 L557.0,204.6 L560.0,204.4 L563.0,204.2 L566.0,204.0 L569.0,203.9 L572.0,203.9 L575.0,203.8 L578.0,203.7 L581.0,203.7 L584.0,203.6 L587.0,203.6 L590.0,203.6 L593.0,203.5 L596.0,203.5 L599.0,203.5 L602.0,203.5 L605.0,203.5 L608.0,203.5 L611.0,203.6 L614.0,203.6 L617.0,203.7 L620.0,203.7 L623.0,203.8 L626.0,203.9 L629.0,203.9 L632.0,204.0 L635.0,204.0 L638.0,204.1 L641.0,204.2 L644.0,204.3 L647.0,204.4 L650.0,204.5 L653.0,204.6 L656.0,204.7 L659.0,204.8 L662.0,204.9 L665.0,204.9 L668.0,205.0 L671.0,205.1 L674.0,205.2 L677.0,205.3 L680.0,205.4 L683.0,205.4 L686.0,205.5 L689.0,205.6 L692.0,205.6 L695.0,205.7 L698.0,205.7 L701.0,205.7 L704.0,205.6 L707.0,205.5 L710.0,205.3 L713.0,205.1 L716.0,204.9 L719.0,204.7 L722.0,204.4 L725.0,204.3 L728.0,204.1 L731.0,204.0 L734.0,204.0 L737.0,204.0 L740.0,204.1 L743.0,204.1 L746.0,204.2 L749.0,204.3 L752.0,204.4 L755.0,204.5 L758.0,204.5 L761.0,204.6 L764.0,204.7 L767.0,204.8 L770.0,204.9 L773.0,204.9 L776.0,205.0 L779.0,205.0 L782.0,205.0 L785.0,205.0 L788.0,205.0 L791.0,205.0 L794.0,205.0 L797.0,205.0 L800.0,205.0 L803.0,205.0 L806.0,205.0 L809.0,205.0 L812.0,205.0 L815.0,205.0 L818.0,205.0 L821.0,205.0 L824.0,205.0 L825.0,205.0"/>
<path d="M98.0,262.5 L101.0,263.2 L104.0,264.0 L107.0,264.7 L110.0,265.4 L113.0,266.1 L116.0,266.9 L119.0,267.7 L122.0,268.6 L125.0,269.6 L128.0,270.6 L131.0,271.7 L134.0,272.8 L137.0,273.9 L140.0,275.0 L143.0,276.1 L146.0,277.1 L149.0,278.1 L152.0,279.2 L155.0,280.2 L158.0,281.3 L161.0,282.4 L164.0,283.4 L167.0,284.5 L170.0,285.6 L173.0,286.7 L176.0,287.7 L179.0,288.7 L182.0,289.6 L185.0,290.6 L188.0,291.5 L191.0,292.4 L194.0,293.3 L197.0,294.2 L200.0,295.0 L203.0,295.7 L206.0,296.3 L209.0,296.8 L212.0,297.3 L215.0,297.7 L218.0,298.2 L221.0,298.6 L224.0,298.9 L227.0,299.3 L230.0,299.5 L233.0,299.8 L236.0,299.9 L239.0,300.0 L242.0,300.0 L245.0,300.0 L248.0,300.0 L251.0,300.0 L254.0,300.0 L257.0,300.0 L260.0,300.0 L263.0,300.0 L266.0,300.0 L269.0,300.0 L272.0,300.0 L275.0,299.8 L278.0,299.6 L281.0,299.2 L284.0,298.8 L287.0,298.4 L290.0,297.8 L293.0,297.3 L296.0,296.7 L299.0,296.2 L302.0,295.6 L305.0,295.0 L308.0,294.2 L311.0,293.4 L314.0,292.5 L317.0,291.6 L320.0,290.7 L323.0,289.8 L326.0,288.8 L329.0,287.9 L332.0,287.0 L335.0,286.1 L338.0,285.2 L341.0,284.3 L344.0,283.4 L347.0,282.5 L350.0,281.6 L353.0,280.7 L356.0,279.8 L359.0,278.9 L362.0,278.0 L365.0,277.2 L368.0,276.4 L371.0,275.7 L374.0,274.9 L377.0,274.2 L380.0,273.5 L383.0,272.9 L386.0,272.2 L387.0,272.0"/>
<path d="M477.0,248.0 L480.0,247.1 L483.0,246.3 L486.0,245.5 L489.0,244.7 L492.0,244.0 L495.0,243.2 L498.0,242.5 L501.0,241.8 L504.0,241.2 L507.0,240.6 L510.0,240.0 L513.0,239.4 L516.0,238.8 L519.0,238.2 L522.0,237.6 L525.0,237.0 L528.0,236.5 L531.0,236.0 L534.0,235.6 L537.0,235.3 L540.0,235.1 L543.0,235.0 L546.0,235.0 L549.0,235.1 L552.0,235.2 L555.0,235.4 L558.0,235.6 L561.0,235.7 L564.0,235.9 L567.0,236.1 L570.0,236.3 L573.0,236.5 L576.0,236.7 L579.0,236.8 L582.0,236.9 L585.0,237.0 L588.0,237.1 L591.0,237.2 L594.0,237.3 L597.0,237.4 L600.0,237.5 L603.0,237.6 L606.0,237.7 L609.0,237.8 L612.0,237.9 L615.0,237.9 L618.0,238.0 L621.0,238.1 L624.0,238.2 L627.0,238.3 L630.0,238.3 L633.0,238.4 L636.0,238.5 L639.0,238.6 L642.0,238.7 L645.0,238.7 L648.0,238.8 L651.0,238.8 L654.0,238.9 L657.0,238.9 L660.0,239.0 L663.0,239.0 L666.0,239.0 L669.0,239.0 L672.0,239.0 L675.0,238.9 L678.0,238.8 L681.0,238.7 L684.0,238.6 L687.0,238.5 L690.0,238.4 L693.0,238.3 L696.0,238.1 L699.0,238.0 L702.0,237.9 L705.0,237.8 L708.0,237.7 L711.0,237.5 L714.0,237.4 L717.0,237.3 L720.0,237.1 L723.0,237.0 L726.0,236.9 L729.0,236.8 L732.0,236.7 L735.0,236.7 L738.0,236.6 L741.0,236.5 L744.0,236.5 L747.0,236.4 L750.0,236.3 L753.0,236.3 L756.0,236.2 L759.0,236.2 L762.0,236.1 L765.0,236.1 L768.0,236.1 L771.0,236.0 L774.0,236.0 L777.0,236.0 L780.0,236.0 L783.0,236.0 L786.0,236.0 L789.0,236.0 L792.0,236.0 L795.0,236.0 L798.0,236.0 L801.0,236.0 L804.0,236.0 L807.0,236.0 L810.0,236.0 L813.0,236.0 L816.0,236.0 L819.0,236.0 L822.0,236.0 L825.0,236.0"/>
<path d="M98.0,289.5 L101.0,290.3 L104.0,291.1 L107.0,292.1 L110.0,293.0 L113.0,294.0 L116.0,295.1 L119.0,296.1 L122.0,297.2 L125.0,298.2 L128.0,299.3 L131.0,300.4 L134.0,301.4 L137.0,302.6 L140.0,303.7 L143.0,304.9 L146.0,306.0 L149.0,307.2 L152.0,308.3 L155.0,309.4 L158.0,310.4 L161.0,311.3 L164.0,312.2 L167.0,313.0 L170.0,313.8 L173.0,314.6 L176.0,315.4 L179.0,316.2 L182.0,316.9 L185.0,317.7 L188.0,318.5 L191.0,319.3 L194.0,320.2 L197.0,321.1 L200.0,322.1 L203.0,323.0 L206.0,323.9 L209.0,324.5 L212.0,325.0 L215.0,325.3 L218.0,325.7 L221.0,326.0 L224.0,326.2 L227.0,326.5 L230.0,326.7 L233.0,326.8 L236.0,326.9 L239.0,327.0 L242.0,327.0 L245.0,326.9 L248.0,326.8 L251.0,326.6 L254.0,326.4 L257.0,326.2 L260.0,325.9 L263.0,325.6 L266.0,325.4 L269.0,325.1 L272.0,324.8 L275.0,324.5 L278.0,324.2 L281.0,323.8 L284.0,323.4 L287.0,323.0 L290.0,322.6 L293.0,322.1 L296.0,321.7 L299.0,321.2 L302.0,320.6 L305.0,320.1 L308.0,319.4 L311.0,318.7 L314.0,318.0 L317.0,317.3 L320.0,316.5 L323.0,315.7 L326.0,314.9 L329.0,314.1 L332.0,313.3 L335.0,312.5 L338.0,311.6 L341.0,310.8 L344.0,310.0 L347.0,309.1 L350.0,308.2 L353.0,307.3 L356.0,306.4 L359.0,305.5 L362.0,304.6 L365.0,303.6 L368.0,302.7 L371.0,301.7 L374.0,300.6 L377.0,299.5 L380.0,298.3 L383.0,297.2 L386.0,296.0 L389.0,294.9 L392.0,293.9 L395.0,292.9 L398.0,292.0 L401.0,291.3 L404.0,290.6 L407.0,289.9 L410.0,289.3 L413.0,288.8 L416.0,288.2 L419.0,287.6 L422.0,287.0 L425.0,286.3 L428.0,285.6 L431.0,284.9 L434.0,284.2 L437.0,283.5 L440.0,282.8 L443.0,282.1 L446.0,281.4 L449.0,280.7 L452.0,280.0 L455.0,279.3 L458.0,278.5 L461.0,277.7 L464.0,276.8 L467.0,275.8 L470.0,274.8 L473.0,273.7 L476.0,272.7 L479.0,271.8 L482.0,271.0 L485.0,270.3 L488.0,269.7 L491.0,269.1 L494.0,268.6 L497.0,268.0 L500.0,267.5 L503.0,266.9 L506.0,266.3 L509.0,265.7 L512.0,265.1 L515.0,264.5 L518.0,264.0 L521.0,263.5 L524.0,263.0 L527.0,262.6 L530.0,262.2 L533.0,262.0 L536.0,261.8 L539.0,261.6 L542.0,261.5 L545.0,261.3 L548.0,261.2 L551.0,261.0 L554.0,260.9 L557.0,260.8 L560.0,260.8 L563.0,260.7 L566.0,260.7 L569.0,260.7 L572.0,260.8 L575.0,261.0 L578.0,261.2 L581.0,261.4 L584.0,261.7 L587.0,261.9 L590.0,262.2 L593.0,262.4 L596.0,262.6 L599.0,262.7 L602.0,262.7 L605.0,262.8 L608.0,262.8 L611.0,262.8 L614.0,262.8 L617.0,262.9 L620.0,262.9 L623.0,262.9 L626.0,262.9 L629.0,263.0 L632.0,263.0 L635.0,263.0 L638.0,263.1 L641.0,263.2 L644.0,263.3 L647.0,263.4 L650.0,263.6 L653.0,263.7 L656.0,263.8 L659.0,263.9 L662.0,264.0 L665.0,264.0 L668.0,264.0 L671.0,264.0 L674.0,264.0 L677.0,264.0 L680.0,263.9 L683.0,263.9 L686.0,263.8 L689.0,263.8 L692.0,263.8 L695.0,263.7 L698.0,263.6 L701.0,263.6 L704.0,263.5 L707.0,263.5 L710.0,263.4 L713.0,263.3 L716.0,263.3 L719.0,263.2 L722.0,263.2 L725.0,263.1 L728.0,263.1 L731.0,263.0 L734.0,263.0 L737.0,263.0 L740.0,262.9 L743.0,262.9 L746.0,262.9 L749.0,262.8 L752.0,262.8 L755.0,262.8 L758.0,262.7 L761.0,262.7 L764.0,262.7 L767.0,262.6 L770.0,262.6 L773.0,262.6 L776.0,262.5 L779.0,262.5 L782.0,262.5 L785.0,262.4 L788.0,262.4 L791.0,262.4 L794.0,262.3 L797.0,262.3 L800.0,262.3 L803.0,262.2 L806.0,262.2 L809.0,262.2 L812.0,262.1 L815.0,262.1 L818.0,262.1 L821.0,262.0 L824.0,262.0 L825.0,262.0"/>
<path d="M98.0,316.5 L101.0,317.2 L104.0,317.9 L107.0,318.6 L110.0,319.3 L113.0,319.9 L116.0,320.6 L119.0,321.2 L122.0,321.9 L125.0,322.7 L128.0,323.4 L131.0,324.3 L134.0,325.3 L137.0,326.3 L140.0,327.5 L143.0,328.7 L146.0,329.9 L149.0,331.1 L152.0,332.3 L155.0,333.4 L158.0,334.4 L161.0,335.3 L164.0,336.1 L167.0,336.8 L170.0,337.5 L173.0,338.1 L176.0,338.8 L179.0,339.4 L182.0,340.1 L185.0,340.7 L188.0,341.5 L191.0,342.3 L194.0,343.3 L197.0,344.4 L200.0,345.6 L203.0,346.7 L206.0,347.7 L209.0,348.5 L212.0,349.0 L215.0,349.3 L218.0,349.6 L221.0,349.8 L224.0,350.0 L227.0,350.2 L230.0,350.4 L233.0,350.5 L236.0,350.6 L239.0,350.6 L242.0,350.6 L245.0,350.6 L248.0,350.6 L251.0,350.5 L254.0,350.5 L257.0,350.4 L260.0,350.3 L263.0,350.2 L266.0,350.1 L269.0,350.0 L272.0,349.9 L275.0,349.4 L278.0,348.8 L281.0,348.0 L284.0,347.2 L287.0,346.2 L290.0,345.3 L293.0,344.5 L296.0,343.7 L299.0,343.1 L302.0,342.8 L305.0,342.5 L308.0,342.2 L311.0,341.9 L314.0,341.6 L317.0,341.1 L320.0,340.6 L323.0,340.0 L326.0,339.3 L329.0,338.6 L332.0,337.9 L335.0,337.1 L338.0,336.3 L341.0,335.4 L344.0,334.5 L347.0,333.6 L350.0,332.6 L353.0,331.6 L356.0,330.7 L359.0,329.7 L362.0,328.7 L365.0,327.7 L368.0,326.7 L371.0,325.6 L374.0,324.4 L377.0,323.1 L380.0,321.8 L383.0,320.5 L386.0,319.2 L389.0,317.8 L392.0,316.6 L395.0,315.3 L398.0,314.2 L401.0,313.2 L404.0,312.2 L407.0,311.2 L410.0,310.3 L413.0,309.5 L416.0,308.8 L419.0,308.1 L422.0,307.5 L425.0,307.0 L428.0,306.5 L431.0,306.0 L434.0,305.5 L437.0,305.0 L440.0,304.5 L443.0,304.1 L446.0,303.7 L449.0,303.3 L452.0,302.9 L455.0,302.4 L458.0,301.9 L461.0,301.3 L464.0,300.5 L467.0,299.7 L470.0,298.7 L473.0,297.7 L476.0,296.7 L479.0,295.8 L482.0,295.0 L485.0,294.2 L488.0,293.5 L491.0,292.8 L494.0,292.1 L497.0,291.4 L500.0,290.8 L503.0,290.3 L506.0,289.9 L509.0,289.5 L512.0,289.2 L515.0,288.9 L518.0,288.6 L521.0,288.4 L524.0,288.1 L527.0,287.9 L530.0,287.6 L533.0,287.3 L536.0,287.0 L539.0,286.6 L542.0,286.1 L545.0,285.7 L548.0,285.3 L551.0,284.9 L554.0,284.5 L557.0,284.2 L560.0,284.1 L563.0,284.0 L566.0,284.1 L569.0,284.3 L572.0,284.5 L575.0,284.9 L578.0,285.2 L581.0,285.5 L584.0,285.8 L587.0,286.0 L590.0,286.1 L593.0,286.2 L596.0,286.3 L599.0,286.4 L602.0,286.5 L605.0,286.6 L608.0,286.7 L611.0,286.9 L614.0,287.1 L617.0,287.3 L620.0,287.5 L623.0,287.7 L626.0,287.8 L629.0,287.9 L632.0,288.0 L635.0,288.0 L638.0,288.0 L641.0,288.0 L644.0,288.0 L647.0,288.0 L650.0,288.0 L653.0,288.0 L656.0,288.0 L659.0,288.0 L662.0,288.0 L665.0,288.0 L668.0,288.0 L671.0,288.0 L674.0,288.0 L677.0,288.0 L680.0,288.0 L683.0,288.0 L686.0,288.0 L689.0,288.0 L692.0,288.0 L695.0,288.0 L698.0,287.9 L701.0,287.9 L704.0,287.9 L707.0,287.9 L710.0,287.8 L713.0,287.8 L716.0,287.8 L719.0,287.8 L722.0,287.7 L725.0,287.7 L728.0,287.7 L731.0,287.7 L734.0,287.7 L737.0,287.7 L740.0,287.7 L743.0,287.8 L746.0,287.8 L749.0,287.9 L752.0,288.0 L755.0,288.1 L758.0,288.1 L761.0,288.2 L764.0,288.3 L767.0,288.4 L770.0,288.4 L773.0,288.5 L776.0,288.5 L779.0,288.5 L782.0,288.5 L785.0,288.5 L788.0,288.5 L791.0,288.5 L794.0,288.5 L797.0,288.4 L800.0,288.4 L803.0,288.4 L806.0,288.3 L809.0,288.3 L812.0,288.3 L815.0,288.2 L818.0,288.2 L821.0,288.1 L824.0,288.0 L825.0,288.0"/>
<path d="M98.0,344.5 L101.0,345.2 L104.0,345.8 L107.0,346.3 L110.0,346.7 L113.0,347.2 L116.0,347.6 L119.0,348.0 L122.0,348.5 L125.0,349.0 L128.0,349.6 L131.0,350.2 L134.0,351.1 L137.0,352.1 L140.0,353.2 L143.0,354.5 L146.0,355.7 L149.0,357.0 L152.0,358.2 L155.0,359.4 L158.0,360.4 L161.0,361.3 L164.0,362.1 L167.0,362.8 L170.0,363.5 L173.0,364.2 L176.0,364.8 L179.0,365.5 L182.0,366.1 L185.0,366.8 L188.0,367.5 L191.0,368.3 L194.0,369.2 L197.0,370.3 L200.0,371.3 L203.0,372.4 L206.0,373.2 L209.0,373.8 L212.0,374.0 L215.0,374.0 L218.0,374.0 L221.0,374.0 L224.0,374.0 L227.0,374.0 L230.0,374.0 L233.0,374.0 L236.0,374.0 L239.0,374.0 L242.0,374.0 L245.0,374.0 L248.0,374.0 L251.0,373.9 L254.0,373.9 L257.0,373.8 L260.0,373.8 L263.0,373.7 L266.0,373.6 L269.0,373.5 L272.0,373.4 L275.0,373.1 L278.0,372.7 L281.0,372.1 L284.0,371.4 L287.0,370.7 L290.0,370.0 L293.0,369.2 L296.0,368.4 L299.0,367.7 L302.0,367.1 L305.0,366.4 L308.0,365.7 L311.0,365.0 L314.0,364.3 L317.0,363.5 L320.0,362.6 L323.0,361.7 L326.0,360.8 L329.0,359.8 L332.0,358.8 L335.0,357.8 L338.0,356.8 L341.0,355.8 L344.0,354.8 L347.0,353.7 L350.0,352.6 L353.0,351.5 L356.0,350.5 L359.0,349.4 L362.0,348.3 L365.0,347.3 L368.0,346.3 L371.0,345.3 L374.0,344.3 L377.0,343.3 L380.0,342.3 L383.0,341.3 L386.0,340.4 L389.0,339.4 L392.0,338.4 L395.0,337.6 L398.0,336.9 L401.0,336.4 L404.0,335.9 L407.0,335.5 L410.0,335.1 L413.0,334.7 L416.0,334.3 L419.0,333.9 L422.0,333.5 L425.0,333.2 L428.0,332.8 L431.0,332.5 L434.0,332.1 L437.0,331.8 L440.0,331.4 L443.0,331.0 L446.0,330.6 L449.0,330.2 L452.0,329.7 L455.0,329.2 L458.0,328.7 L461.0,328.1 L464.0,327.6 L467.0,327.0 L470.0,326.4 L473.0,325.8 L476.0,325.1 L479.0,324.5 L482.0,323.8 L485.0,323.1 L488.0,322.5 L491.0,321.8 L494.0,321.0 L497.0,320.2 L500.0,319.3 L503.0,318.4 L506.0,317.5 L509.0,316.6 L512.0,315.7 L515.0,315.0 L518.0,314.4 L521.0,313.8 L524.0,313.3 L527.0,312.8 L530.0,312.4 L533.0,311.9 L536.0,311.5 L539.0,311.3 L542.0,311.1 L545.0,311.0 L548.0,311.0 L551.0,311.1 L554.0,311.3 L557.0,311.6 L560.0,311.8 L563.0,312.1 L566.0,312.5 L569.0,312.9 L572.0,313.2 L575.0,313.6 L578.0,314.0 L581.0,314.3 L584.0,314.7 L587.0,315.0 L590.0,315.3 L593.0,315.6 L596.0,316.0 L599.0,316.3 L602.0,316.6 L605.0,316.9 L608.0,317.1 L611.0,317.2 L614.0,317.4 L617.0,317.5 L620.0,317.7 L623.0,317.8 L626.0,317.9 L629.0,318.0 L632.0,318.0 L635.0,318.0 L638.0,318.0 L641.0,318.0 L644.0,317.9 L647.0,317.9 L650.0,317.8 L653.0,317.8 L656.0,317.7 L659.0,317.7 L662.0,317.6 L665.0,317.6 L668.0,317.6 L671.0,317.6 L674.0,317.7 L677.0,317.8 L680.0,318.0 L683.0,318.2 L686.0,318.4 L689.0,318.7 L692.0,318.9 L695.0,319.2 L698.0,319.3 L701.0,319.5 L704.0,319.6 L707.0,319.6 L710.0,319.5 L713.0,319.4 L716.0,319.3 L719.0,319.1 L722.0,318.9 L725.0,318.7 L728.0,318.5 L731.0,318.2 L734.0,318.0 L737.0,317.8 L740.0,317.6 L743.0,317.4 L746.0,317.2 L749.0,317.0 L752.0,316.8 L755.0,316.6 L758.0,316.5 L761.0,316.3 L764.0,316.2 L767.0,316.1 L770.0,316.0 L773.0,316.0 L776.0,315.9 L779.0,315.9 L782.0,315.8 L785.0,315.8 L788.0,315.8 L791.0,315.8 L794.0,315.7 L797.0,315.7 L800.0,315.7 L803.0,315.7 L806.0,315.7 L809.0,315.6 L812.0,315.6 L815.0,315.6 L818.0,315.6 L821.0,315.6 L824.0,315.6 L825.0,315.6"/>
<path d="M98.0,384.5 L101.0,385.3 L104.0,386.4 L107.0,387.6 L110.0,388.9 L113.0,390.3 L116.0,391.0 L119.0,391.0 L122.0,391.0 L125.0,391.0 L128.0,391.0 L131.0,391.1 L134.0,391.3 L137.0,391.6 L140.0,392.0 L143.0,392.6 L146.0,393.6 L149.0,394.9 L152.0,396.2 L155.0,397.4 L158.0,398.5 L161.0,399.2 L164.0,399.7 L167.0,400.2 L170.0,400.6 L173.0,400.9 L176.0,401.3 L179.0,401.8 L182.0,402.4 L185.0,403.2 L188.0,404.0 L191.0,404.9 L194.0,405.7 L197.0,406.5 L200.0,407.0 L203.0,407.4 L206.0,407.9 L209.0,408.2 L212.0,408.6 L215.0,408.8 L218.0,409.0 L221.0,409.0 L224.0,408.9 L227.0,408.6 L230.0,408.3 L233.0,408.0 L236.0,407.5 L239.0,407.1 L242.0,406.7 L245.0,406.2 L248.0,405.6 L251.0,404.9 L254.0,404.3 L257.0,403.6 L260.0,403.0 L263.0,402.4 L266.0,401.8 L269.0,401.2 L272.0,400.6 L275.0,400.0 L278.0,399.4 L281.0,398.8 L284.0,398.2 L287.0,397.6 L290.0,397.0 L293.0,396.5 L296.0,395.8 L299.0,395.2 L302.0,394.6 L305.0,393.9 L308.0,393.2 L311.0,392.5 L314.0,391.8 L317.0,391.1 L320.0,390.3 L323.0,389.6 L326.0,388.8 L329.0,388.0 L332.0,387.2 L335.0,386.4 L338.0,385.6 L341.0,384.7 L344.0,383.8 L347.0,382.8 L350.0,381.8 L353.0,380.7 L356.0,379.7 L359.0,378.6 L362.0,377.6 L365.0,376.6 L368.0,375.6 L371.0,374.7 L374.0,373.8 L377.0,373.0 L380.0,372.2 L383.0,371.4 L386.0,370.6 L389.0,369.8 L392.0,369.0 L395.0,368.1 L398.0,367.0 L401.0,366.0 L404.0,364.9 L407.0,364.1 L410.0,363.4 L413.0,363.0 L416.0,362.8 L419.0,362.7 L422.0,362.5 L425.0,362.5 L428.0,362.4 L431.0,362.3 L434.0,362.2 L437.0,362.1 L440.0,362.0 L443.0,361.9 L446.0,361.8 L449.0,361.7 L452.0,361.5 L455.0,361.4 L458.0,361.3 L461.0,361.1 L464.0,360.9 L467.0,360.7 L470.0,360.4 L473.0,360.0 L476.0,359.7 L479.0,359.2 L482.0,358.8 L485.0,358.3 L488.0,357.9 L491.0,357.5 L494.0,357.0 L497.0,356.7 L500.0,356.3 L503.0,356.0 L506.0,355.7 L509.0,355.4 L512.0,355.1 L515.0,354.8 L518.0,354.6 L521.0,354.3 L524.0,354.2 L527.0,354.0 L530.0,354.0 L533.0,354.0 L536.0,354.0 L539.0,354.0 L542.0,354.0 L545.0,354.0 L548.0,354.2 L551.0,354.7 L554.0,355.5 L557.0,356.3 L560.0,357.0 L563.0,357.7 L566.0,358.4 L569.0,359.2 L572.0,360.0 L575.0,360.8 L578.0,361.5 L581.0,362.2 L584.0,362.9 L587.0,363.6 L590.0,364.3 L593.0,364.9 L596.0,365.5 L599.0,365.9 L602.0,366.2 L605.0,366.5 L608.0,366.7 L611.0,367.0 L614.0,367.2 L617.0,367.3 L620.0,367.5 L623.0,367.7 L626.0,367.8 L629.0,368.0 L632.0,368.1 L635.0,368.2 L638.0,368.4 L641.0,368.5 L644.0,368.6 L647.0,368.7 L650.0,368.8 L653.0,368.9 L656.0,369.0 L659.0,369.0 L662.0,369.0 L665.0,369.0 L668.0,369.0 L671.0,369.0 L674.0,369.0 L677.0,369.0 L680.0,369.0 L683.0,369.0 L686.0,369.0 L688.0,369.0"/>
<path d="M778.0,368.6 L781.0,368.5 L784.0,368.5 L787.0,368.4 L790.0,368.3 L793.0,368.3 L796.0,368.2 L799.0,368.1 L802.0,368.0 L805.0,367.9 L808.0,367.8 L811.0,367.7 L814.0,367.5 L817.0,367.4 L820.0,367.3 L823.0,367.1 L825.0,367.0"/>
<path d="M654.0,474.0 L657.0,473.3 L660.0,472.6 L663.0,471.9 L666.0,471.2 L669.0,470.5 L672.0,469.8 L675.0,469.2 L678.0,468.5 L680.0,468.0"/>
<path d="M713.0,469.4 L716.0,468.8 L719.0,468.3 L722.0,467.8 L725.0,467.4 L728.0,467.0 L731.0,466.7 L734.0,466.4"/>
<path d="M794.0,477.0 L797.0,476.2 L800.0,475.5 L803.0,474.7 L806.0,474.0 L809.0,473.3 L812.0,472.5 L815.0,471.8 L818.0,471.1 L821.0,470.4 L824.0,469.7 L825.0,469.5"/>
</g>
<g fill="#000" stroke="#000" stroke-width="0.3" stroke-linejoin="miter">
<path d="M91.2,492.9 L90.7,492.8 L91.3,492.0 L86.7,492.6 L90.9,494.7 L90.6,493.7 L91.1,493.8ZM91.2,485.2 L90.7,485.2 L91.3,484.3 L86.7,485.0 L90.9,487.0 L90.6,486.1 L91.1,486.1ZM92.7,476.4 L92.0,476.3 L92.9,474.9 L85.2,476.0 L92.3,479.4 L91.8,477.8 L92.5,477.9ZM94.3,466.0 L91.4,465.4 L92.5,463.9 L83.7,464.8 L91.6,468.9 L91.1,467.1 L93.9,467.7ZM97.1,454.9 L88.5,453.1 L89.7,451.6 L80.9,452.4 L88.7,456.6 L88.2,454.8 L96.8,456.6ZM100.7,442.5 L84.9,438.4 L86.2,436.9 L77.3,437.3 L84.9,441.9 L84.5,440.0 L100.3,444.1ZM105.0,428.2 L80.6,421.4 L81.9,420.0 L73.0,420.2 L80.5,424.9 L80.1,423.1 L104.6,429.8ZM109.3,412.0 L76.3,402.5 L77.6,401.1 L68.7,401.1 L76.2,406.0 L75.8,404.1 L108.8,413.7ZM109.0,388.8 L76.6,380.2 L77.9,378.8 L69.0,379.1 L76.6,383.7 L76.2,381.9 L108.6,390.5ZM115.4,365.5 L70.3,356.8 L71.4,355.3 L62.6,356.2 L70.5,360.3 L70.0,358.5 L115.0,367.1ZM115.9,338.2 L69.8,329.7 L70.9,328.2 L62.1,329.1 L70.0,333.2 L69.5,331.3 L115.6,339.9ZM115.9,308.7 L69.7,295.6 L71.0,294.2 L62.1,294.3 L69.6,299.1 L69.2,297.2 L115.5,310.3ZM109.9,269.4 L75.8,260.3 L77.0,258.9 L68.2,259.1 L75.7,263.8 L75.3,261.9 L109.4,271.1ZM107.8,224.2 L77.9,218.5 L79.0,217.0 L70.2,217.9 L78.1,222.0 L77.5,220.1 L107.5,225.9ZM105.7,176.6 L79.9,173.1 L81.0,171.5 L72.2,172.9 L80.3,176.6 L79.7,174.8 L105.5,178.3ZM103.7,126.9 L81.9,124.2 L83.0,122.6 L74.2,124.1 L82.3,127.6 L81.7,125.9 L103.5,128.6ZM103.7,78.0 L81.9,75.5 L83.0,73.9 L74.2,75.4 L82.4,78.9 L81.7,77.2 L103.5,79.7ZM101.6,27.8 L83.9,26.0 L85.0,24.4 L76.3,26.0 L84.4,29.4 L83.8,27.7 L101.5,29.5ZM140.8,477.7 L140.3,477.6 L140.9,476.8 L136.3,477.4 L140.5,479.4 L140.2,478.5 L140.7,478.6ZM140.8,470.1 L140.3,470.0 L140.9,469.2 L136.3,469.8 L140.5,471.8 L140.2,470.9 L140.7,471.0ZM142.3,461.3 L141.6,461.2 L142.5,459.8 L134.8,460.9 L141.9,464.3 L141.4,462.7 L142.1,462.8ZM143.9,450.9 L141.0,450.4 L142.1,448.9 L133.3,449.8 L141.2,453.9 L140.7,452.1 L143.5,452.6ZM146.7,439.9 L138.1,438.1 L139.3,436.6 L130.5,437.4 L138.3,441.6 L137.8,439.8 L146.4,441.6ZM150.3,427.6 L134.5,423.5 L135.8,422.0 L126.9,422.4 L134.5,427.0 L134.1,425.1 L149.9,429.2ZM154.6,413.3 L130.2,406.6 L131.5,405.2 L122.6,405.4 L130.1,410.1 L129.7,408.3 L154.2,415.0ZM158.9,397.3 L125.9,387.8 L127.2,386.4 L118.3,386.4 L125.8,391.3 L125.4,389.4 L158.4,399.0ZM163.0,375.5 L121.8,364.4 L123.1,363.0 L114.2,363.3 L121.8,367.9 L121.4,366.1 L162.6,377.1ZM167.5,354.6 L117.3,339.5 L118.6,338.2 L109.8,338.2 L117.2,343.1 L116.8,341.2 L167.0,356.2ZM167.5,328.5 L117.3,311.9 L118.6,310.5 L109.8,310.3 L117.0,315.4 L116.7,313.5 L167.0,330.1ZM161.0,294.7 L123.8,281.8 L125.2,280.5 L116.3,280.1 L123.5,285.3 L123.3,283.4 L160.4,296.3ZM158.3,257.1 L126.4,245.5 L127.8,244.2 L118.9,243.7 L126.1,249.0 L125.9,247.1 L157.8,258.7ZM156.0,212.4 L128.8,203.9 L130.1,202.5 L121.2,202.4 L128.6,207.4 L128.3,205.5 L155.5,214.0ZM153.7,165.0 L131.2,159.0 L132.4,157.5 L123.5,157.8 L131.1,162.5 L130.7,160.6 L153.2,166.6ZM153.6,115.6 L131.2,110.2 L132.4,108.7 L123.6,109.2 L131.2,113.7 L130.8,111.8 L153.3,117.2ZM151.3,66.2 L133.5,62.4 L134.7,60.9 L125.9,61.6 L133.6,65.9 L133.2,64.0 L151.0,67.9ZM191.6,480.9 L190.9,480.6 L192.2,479.6 L184.9,478.7 L190.4,483.4 L190.4,481.9 L191.0,482.2ZM192.0,473.3 L191.3,473.0 L192.7,471.9 L184.5,470.9 L190.8,476.2 L190.7,474.5 L191.4,474.8ZM193.1,464.4 L191.0,463.7 L192.3,462.3 L183.4,462.4 L190.8,467.2 L190.5,465.4 L192.6,466.0ZM195.0,453.2 L189.0,452.3 L190.1,450.8 L181.3,452.1 L189.3,455.8 L188.7,454.0 L194.8,454.9ZM198.7,442.5 L185.4,440.0 L186.5,438.5 L177.7,439.4 L185.6,443.5 L185.0,441.6 L198.4,444.2ZM203.1,429.8 L181.0,425.4 L182.1,423.9 L173.3,424.7 L181.1,428.9 L180.6,427.0 L202.7,431.4ZM207.5,415.3 L176.5,408.7 L177.7,407.2 L168.8,407.9 L176.6,412.2 L176.1,410.3 L207.2,417.0ZM211.4,398.6 L172.6,390.4 L173.8,388.9 L164.9,389.7 L172.7,393.9 L172.3,392.1 L211.1,400.2ZM214.2,376.9 L169.8,367.1 L171.0,365.6 L162.2,366.2 L169.9,370.6 L169.5,368.7 L213.8,378.6ZM216.9,355.6 L167.1,342.7 L168.3,341.2 L159.5,341.6 L167.1,346.2 L166.7,344.3 L216.5,357.2ZM216.9,328.7 L167.2,315.6 L168.4,314.1 L159.6,314.4 L167.1,319.1 L166.7,317.2 L216.4,330.3ZM210.2,295.4 L173.8,285.0 L175.1,283.6 L166.3,283.7 L173.7,288.5 L173.4,286.6 L209.7,297.0ZM207.9,258.1 L176.1,248.3 L177.5,247.0 L168.6,246.9 L175.9,251.8 L175.6,250.0 L207.4,259.7ZM205.6,215.1 L178.3,205.6 L179.7,204.2 L170.9,203.8 L178.0,209.0 L177.8,207.2 L205.1,216.7ZM203.3,167.9 L180.7,160.5 L182.0,159.2 L173.2,158.9 L180.4,164.0 L180.2,162.1 L202.8,169.6ZM201.3,117.8 L182.8,112.3 L184.1,110.9 L175.2,111.0 L182.6,115.8 L182.3,114.0 L200.8,119.4ZM201.0,68.8 L183.1,64.0 L184.3,62.6 L175.5,62.9 L183.0,67.5 L182.6,65.7 L200.5,70.4ZM238.5,481.3 L238.1,482.0 L237.3,482.0 L236.8,481.3 L237.3,480.5 L238.1,480.5ZM238.5,473.7 L238.1,474.4 L237.3,474.4 L236.8,473.7 L237.3,472.9 L238.1,472.9ZM241.6,464.2 L240.8,464.2 L241.6,462.6 L233.8,464.9 L241.6,467.3 L240.8,465.8 L241.6,465.8ZM244.7,453.5 L238.4,453.4 L239.2,451.7 L230.7,454.2 L239.2,456.8 L238.3,455.1 L244.7,455.2ZM249.6,441.8 L233.5,441.6 L234.4,439.9 L225.8,442.4 L234.3,445.0 L233.5,443.3 L249.6,443.5ZM255.8,428.1 L227.2,427.9 L228.1,426.2 L219.6,428.6 L228.1,431.3 L227.2,429.6 L255.8,429.8ZM260.2,412.6 L222.9,412.2 L223.7,410.5 L215.2,413.0 L223.7,415.6 L222.8,413.9 L260.2,414.3ZM265.6,395.1 L217.5,394.6 L218.4,392.9 L209.9,395.4 L218.3,398.0 L217.5,396.3 L265.5,396.8ZM266.1,372.4 L217.0,372.2 L217.8,370.5 L209.3,373.1 L217.8,375.6 L217.0,373.9 L266.1,374.1ZM266.5,349.9 L216.6,348.8 L217.5,347.1 L208.9,349.4 L217.4,352.2 L216.6,350.5 L266.4,351.6ZM262.6,322.7 L220.5,321.9 L221.4,320.2 L212.9,322.6 L221.3,325.3 L220.5,323.6 L262.5,324.4ZM258.6,291.4 L224.5,289.4 L225.5,287.8 L216.8,289.8 L225.2,292.9 L224.4,291.1 L258.5,293.1ZM255.4,254.6 L227.7,252.3 L228.7,250.7 L220.0,252.5 L228.3,255.8 L227.6,254.0 L255.3,256.3ZM253.5,211.7 L229.7,209.2 L230.7,207.6 L222.0,209.3 L230.2,212.7 L229.5,210.9 L253.3,213.4ZM252.7,165.5 L230.4,163.3 L231.5,161.7 L222.8,163.4 L231.0,166.8 L230.3,165.0 L252.6,167.2ZM250.4,116.2 L232.7,114.5 L233.8,112.9 L225.1,114.6 L233.3,118.0 L232.6,116.2 L250.3,117.8ZM250.4,67.5 L232.7,66.0 L233.7,64.3 L225.1,66.1 L233.3,69.4 L232.6,67.7 L250.3,69.2ZM288.2,477.3 L287.7,478.1 L286.9,478.1 L286.4,477.3 L286.9,476.6 L287.7,476.6ZM288.2,469.7 L287.7,470.5 L286.9,470.5 L286.4,469.7 L286.9,469.0 L287.7,469.0ZM288.6,460.4 L288.3,460.5 L288.5,459.9 L285.9,461.3 L288.9,461.5 L288.5,461.0 L288.8,461.0ZM291.9,448.4 L289.7,448.9 L290.2,447.0 L282.5,451.4 L291.3,452.0 L290.1,450.5 L292.3,450.0ZM297.1,435.6 L284.6,438.3 L285.1,436.5 L277.3,440.8 L286.2,441.5 L285.0,440.0 L297.4,437.3ZM304.3,420.1 L277.3,426.3 L277.8,424.5 L270.1,428.9 L278.9,429.5 L277.7,428.0 L304.7,421.8ZM309.2,403.4 L272.5,411.9 L272.9,410.0 L265.2,414.4 L274.0,415.0 L272.8,413.5 L309.6,405.1ZM311.0,386.2 L270.7,394.3 L271.2,392.5 L263.4,396.6 L272.2,397.5 L271.1,396.0 L311.4,387.9ZM313.4,363.5 L268.4,372.1 L268.9,370.2 L261.0,374.3 L269.9,375.2 L268.7,373.7 L313.7,365.2ZM315.8,340.7 L266.1,349.1 L266.6,347.3 L258.7,351.2 L267.5,352.3 L266.3,350.8 L316.1,342.3ZM315.7,314.4 L266.2,321.6 L266.8,319.7 L258.7,323.5 L267.5,324.8 L266.4,323.2 L316.0,316.1ZM308.4,283.7 L273.6,288.3 L274.2,286.5 L266.1,290.2 L274.9,291.6 L273.8,290.0 L308.6,285.4ZM304.9,247.1 L277.1,250.9 L277.7,249.1 L269.6,252.8 L278.4,254.2 L277.3,252.6 L305.1,248.8ZM304.1,203.7 L277.8,208.1 L278.3,206.3 L270.4,210.3 L279.2,211.4 L278.1,209.8 L304.4,205.3ZM302.1,158.3 L279.8,161.7 L280.4,159.9 L272.4,163.7 L281.1,164.9 L280.0,163.4 L302.4,160.0ZM300.4,109.9 L281.6,112.3 L282.2,110.5 L274.1,114.1 L282.9,115.6 L281.8,114.0 L300.6,111.5ZM299.9,61.7 L282.2,63.6 L282.8,61.8 L274.7,65.3 L283.4,66.9 L282.3,65.3 L300.0,63.4ZM337.8,464.3 L337.3,465.0 L336.5,465.0 L336.0,464.3 L336.5,463.5 L337.3,463.5ZM337.8,456.7 L337.3,457.5 L336.5,457.5 L336.0,456.7 L336.5,456.0 L337.3,456.0ZM337.8,448.1 L337.3,448.8 L336.5,448.8 L336.0,448.1 L336.5,447.3 L337.3,447.3ZM340.2,434.9 L339.4,435.3 L339.5,433.5 L333.3,439.2 L341.6,437.8 L340.2,436.7 L340.9,436.4ZM346.2,421.1 L334.0,426.0 L334.2,424.1 L327.3,429.7 L336.1,428.9 L334.7,427.6 L346.8,422.7ZM353.7,405.9 L326.9,414.5 L327.2,412.6 L319.8,417.6 L328.7,417.4 L327.4,416.1 L354.2,407.5ZM359.8,389.3 L320.9,400.2 L321.3,398.4 L313.8,403.1 L322.7,403.3 L321.4,401.9 L360.2,391.0ZM361.5,371.4 L319.2,383.3 L319.6,381.4 L312.1,386.2 L320.9,386.3 L319.7,384.9 L362.0,373.1ZM363.4,347.9 L317.2,361.9 L317.6,360.1 L310.2,365.0 L319.0,364.9 L317.7,363.6 L363.9,349.5ZM365.4,325.5 L315.3,338.8 L315.7,336.9 L308.1,341.6 L317.0,341.9 L315.8,340.4 L365.9,327.2ZM365.4,298.2 L315.3,312.3 L315.6,310.5 L308.2,315.2 L317.0,315.4 L315.7,314.0 L365.9,299.8ZM358.5,268.2 L322.2,278.6 L322.5,276.7 L315.1,281.5 L323.9,281.6 L322.6,280.2 L359.0,269.9ZM356.2,232.4 L324.5,240.9 L324.9,239.0 L317.4,243.7 L326.2,244.0 L325.0,242.5 L356.7,234.0ZM353.9,189.9 L326.8,197.7 L327.1,195.9 L319.6,200.7 L328.5,200.8 L327.2,199.4 L354.4,191.5ZM351.6,145.3 L329.1,151.0 L329.5,149.2 L322.0,153.8 L330.8,154.1 L329.6,152.7 L352.1,146.9ZM351.7,97.0 L329.2,102.0 L329.7,100.2 L322.0,104.5 L330.8,105.2 L329.6,103.7 L352.0,98.7ZM349.4,49.7 L331.6,53.1 L332.1,51.2 L324.3,55.3 L333.1,56.3 L331.9,54.7 L349.7,51.4ZM387.4,432.6 L386.9,433.3 L386.1,433.3 L385.6,432.6 L386.1,431.8 L386.9,431.8ZM388.9,423.7 L388.4,423.9 L388.6,422.6 L383.9,426.0 L389.6,425.8 L388.8,424.9 L389.3,424.7ZM393.5,413.3 L386.2,415.7 L386.5,413.9 L379.2,419.0 L388.1,418.7 L386.7,417.4 L394.1,414.9ZM400.7,400.7 L379.1,407.4 L379.4,405.5 L372.1,410.5 L380.9,410.4 L379.6,409.0 L401.2,402.4ZM406.6,388.0 L373.3,397.3 L373.6,395.5 L366.1,400.2 L375.0,400.4 L373.7,399.0 L407.1,389.6ZM409.7,374.8 L370.4,383.9 L370.8,382.1 L363.1,386.4 L372.0,387.0 L370.8,385.6 L410.1,376.5ZM411.9,358.5 L368.1,369.5 L368.5,367.6 L360.9,372.2 L369.8,372.6 L368.5,371.1 L412.3,360.1ZM414.0,340.4 L366.0,353.1 L366.4,351.2 L358.8,355.9 L367.7,356.2 L366.4,354.7 L414.4,342.0ZM415.0,315.8 L364.7,333.0 L365.0,331.1 L357.8,336.2 L366.6,335.9 L365.3,334.6 L415.5,317.4ZM415.0,293.4 L364.7,310.2 L365.0,308.4 L357.8,313.5 L366.6,313.2 L365.3,311.9 L415.5,295.0ZM412.3,269.5 L367.7,281.5 L368.0,279.6 L360.5,284.3 L369.4,284.5 L368.1,283.1 L412.7,271.1ZM407.6,239.1 L372.3,248.9 L372.7,247.0 L365.2,251.8 L374.1,251.9 L372.8,250.5 L408.0,240.7ZM405.7,203.4 L374.2,211.9 L374.6,210.0 L367.1,214.7 L375.9,215.0 L374.7,213.5 L406.2,205.1ZM403.5,162.1 L376.5,168.8 L376.9,167.0 L369.2,171.5 L378.1,171.9 L376.9,170.5 L404.0,163.8ZM401.3,117.9 L378.8,122.8 L379.3,121.0 L371.5,125.3 L380.4,126.0 L379.2,124.5 L401.6,119.6ZM401.3,70.3 L378.9,74.4 L379.4,72.6 L371.6,76.6 L380.4,77.6 L379.2,76.1 L401.6,72.0ZM401.0,23.2 L379.3,26.4 L379.9,24.6 L371.9,28.4 L380.7,29.7 L379.6,28.1 L401.3,24.8ZM439.5,430.1 L438.9,429.8 L440.2,428.8 L433.0,427.6 L438.3,432.6 L438.3,431.0 L438.9,431.3ZM441.7,422.5 L438.3,421.5 L439.7,420.1 L430.8,420.0 L438.1,425.0 L437.8,423.1 L441.1,424.2ZM446.8,414.1 L433.2,411.8 L434.3,410.2 L425.5,411.3 L433.5,415.3 L432.9,413.4 L446.5,415.8ZM451.4,403.3 L428.6,401.1 L429.6,399.5 L420.9,401.2 L429.1,404.5 L428.5,402.8 L451.2,404.9ZM454.2,391.2 L425.8,389.8 L426.7,388.1 L418.1,390.2 L426.4,393.2 L425.7,391.5 L454.1,392.9ZM456.7,376.8 L423.2,376.9 L424.0,375.2 L415.5,377.7 L424.0,380.3 L423.2,378.6 L456.7,378.5ZM458.2,361.2 L421.6,361.8 L422.4,360.1 L414.0,362.7 L422.5,365.2 L421.6,363.5 L458.3,362.9ZM459.4,342.7 L420.3,345.5 L421.0,343.8 L412.7,346.9 L421.4,348.8 L420.4,347.2 L459.6,344.4ZM461.9,318.4 L417.6,325.0 L418.2,323.2 L410.2,327.0 L418.9,328.3 L417.9,326.7 L462.2,320.1ZM464.7,294.4 L414.7,303.7 L415.2,301.9 L407.4,305.9 L416.2,306.9 L415.0,305.4 L465.0,296.1ZM460.8,267.2 L418.4,277.5 L418.9,275.7 L411.2,280.2 L420.1,280.6 L418.8,279.2 L461.2,268.8ZM457.7,235.5 L421.4,246.1 L421.7,244.2 L414.3,249.1 L423.1,249.1 L421.8,247.7 L458.2,237.1ZM455.4,199.8 L423.7,209.1 L424.0,207.2 L416.6,212.1 L425.4,212.1 L424.1,210.7 L455.9,201.5ZM453.1,159.0 L426.1,165.8 L426.5,163.9 L418.9,168.5 L427.7,168.9 L426.5,167.4 L453.6,160.7ZM453.2,114.4 L426.1,120.3 L426.6,118.5 L418.9,122.8 L427.7,123.4 L426.5,122.0 L453.5,116.1ZM450.9,67.4 L428.5,71.4 L429.1,69.6 L421.2,73.6 L430.0,74.6 L428.8,73.1 L451.2,69.0ZM450.8,20.3 L428.7,23.5 L429.3,21.7 L421.3,25.5 L430.1,26.8 L429.0,25.2 L451.0,22.0ZM487.9,444.8 L487.4,445.0 L487.5,443.9 L483.3,447.0 L488.6,446.7 L487.8,446.0 L488.2,445.8ZM486.6,438.7 L486.1,439.4 L485.3,439.4 L484.8,438.7 L485.3,437.9 L486.1,437.9ZM488.0,428.7 L487.5,428.9 L487.6,427.7 L483.3,430.9 L488.7,430.6 L487.8,429.8 L488.3,429.7ZM491.3,416.6 L486.8,418.2 L487.0,416.3 L479.8,421.6 L488.7,421.1 L487.3,419.8 L491.8,418.2ZM495.5,404.3 L482.8,407.9 L483.1,406.0 L475.7,410.8 L484.5,410.9 L483.3,409.5 L496.0,405.9ZM500.2,390.6 L478.3,395.0 L478.8,393.2 L471.0,397.3 L479.8,398.2 L478.7,396.7 L500.6,392.3ZM503.5,375.1 L475.1,379.9 L475.7,378.1 L467.7,382.0 L476.5,383.1 L475.4,381.6 L503.8,376.8ZM504.6,358.1 L474.2,362.5 L474.8,360.7 L466.7,364.4 L475.5,365.7 L474.4,364.2 L504.8,359.8ZM510.8,334.0 L467.8,341.9 L468.3,340.1 L460.4,344.1 L469.2,345.1 L468.1,343.5 L511.1,335.7ZM514.3,309.0 L464.2,321.1 L464.6,319.2 L456.9,323.7 L465.8,324.2 L464.6,322.7 L514.6,310.6ZM514.3,282.3 L464.2,294.4 L464.6,292.6 L456.9,297.0 L465.8,297.5 L464.6,296.1 L514.6,283.9ZM507.3,252.2 L471.1,261.2 L471.5,259.3 L463.8,263.9 L472.7,264.3 L471.5,262.9 L507.8,253.9ZM505.1,217.0 L473.5,223.6 L473.9,221.7 L466.1,226.0 L475.0,226.7 L473.8,225.2 L505.4,218.7ZM504.3,173.2 L474.0,181.9 L474.3,180.1 L466.9,184.9 L475.8,185.0 L474.5,183.6 L504.7,174.8ZM502.7,127.7 L475.5,136.4 L475.8,134.5 L468.4,139.5 L477.3,139.4 L476.0,138.0 L503.2,129.3ZM502.7,80.1 L475.6,87.4 L476.0,85.6 L468.5,90.3 L477.3,90.5 L476.1,89.1 L503.2,81.7ZM500.3,33.6 L478.2,38.5 L478.7,36.6 L470.9,40.9 L479.8,41.6 L478.6,40.1 L500.7,35.2ZM536.1,431.1 L535.7,431.8 L534.9,431.8 L534.4,431.1 L534.9,430.4 L535.7,430.4ZM536.1,423.6 L535.7,424.4 L534.9,424.4 L534.4,423.6 L534.9,422.9 L535.7,422.9ZM538.4,414.5 L537.8,414.5 L538.4,413.2 L532.1,415.1 L538.4,417.0 L537.8,415.7 L538.4,415.7ZM543.7,406.2 L534.5,406.2 L535.4,404.5 L526.9,407.1 L535.4,409.6 L534.5,407.9 L543.7,407.9ZM548.5,394.7 L529.8,394.7 L530.6,393.0 L522.1,395.6 L530.6,398.1 L529.8,396.4 L548.5,396.4ZM552.4,381.3 L525.9,381.3 L526.7,379.6 L518.2,382.1 L526.7,384.7 L525.9,383.0 L552.4,383.0ZM554.3,366.0 L523.9,366.0 L524.8,364.3 L516.3,366.8 L524.8,369.4 L523.9,367.7 L554.3,367.7ZM555.0,348.9 L523.3,348.7 L524.2,347.0 L515.7,349.5 L524.1,352.1 L523.3,350.4 L554.9,350.6ZM556.9,325.7 L521.3,327.3 L522.1,325.5 L513.7,328.5 L522.3,330.6 L521.4,329.0 L556.9,327.4ZM561.2,301.6 L516.9,305.8 L517.6,304.0 L509.3,307.4 L518.0,309.1 L517.0,307.5 L561.3,303.3ZM557.2,275.3 L520.9,279.0 L521.5,277.2 L513.3,280.6 L522.1,282.3 L521.0,280.7 L557.3,277.0ZM557.1,244.2 L521.0,247.4 L521.7,245.6 L513.4,248.9 L522.1,250.7 L521.1,249.1 L557.2,245.9ZM554.7,207.3 L523.2,211.3 L523.9,209.5 L515.8,213.1 L524.5,214.6 L523.4,213.0 L555.0,209.0ZM553.1,166.3 L525.0,168.3 L525.7,166.5 L517.4,169.7 L526.1,171.6 L525.1,170.0 L553.3,168.0ZM552.5,121.7 L525.7,122.8 L526.4,121.0 L518.0,123.9 L526.6,126.1 L525.7,124.5 L552.6,123.4ZM552.5,73.8 L525.7,74.5 L526.5,72.8 L518.0,75.6 L526.6,77.9 L525.7,76.2 L552.6,75.5ZM550.9,26.4 L527.3,26.7 L528.1,25.0 L519.7,27.7 L528.2,30.1 L527.3,28.4 L550.9,28.1ZM587.3,443.2 L586.9,443.0 L587.8,442.3 L582.7,441.2 L586.3,444.9 L586.4,443.8 L586.8,444.1ZM588.5,436.1 L587.8,435.7 L589.2,434.8 L581.7,433.1 L587.0,438.6 L587.1,437.0 L587.7,437.4ZM591.5,428.9 L585.8,425.9 L587.4,424.8 L578.7,423.0 L585.0,429.3 L585.0,427.4 L590.7,430.4ZM594.5,419.2 L583.0,414.0 L584.5,412.8 L575.7,411.6 L582.4,417.4 L582.3,415.5 L593.8,420.7ZM596.7,407.9 L580.9,401.7 L582.3,400.5 L573.4,399.7 L580.4,405.2 L580.2,403.3 L596.1,409.5ZM598.6,394.2 L579.0,388.0 L580.3,386.6 L571.5,386.4 L578.8,391.4 L578.5,389.6 L598.1,395.8ZM600.4,378.5 L577.2,372.5 L578.5,371.0 L569.6,371.4 L577.2,376.0 L576.8,374.1 L600.0,380.1ZM602.1,360.6 L575.5,355.3 L576.7,353.8 L567.9,354.7 L575.7,358.8 L575.2,357.0 L601.8,362.3ZM603.5,338.2 L574.1,333.2 L575.3,331.6 L566.5,332.7 L574.4,336.7 L573.9,334.8 L603.2,339.8ZM606.8,314.6 L570.7,310.8 L571.8,309.2 L563.1,310.9 L571.2,314.3 L570.6,312.5 L606.7,316.3ZM606.8,286.9 L570.7,284.9 L571.7,283.2 L563.0,285.3 L571.4,288.3 L570.6,286.6 L606.7,288.6ZM606.8,255.0 L570.7,253.5 L571.6,251.9 L563.0,254.1 L571.4,257.0 L570.7,255.2 L606.7,256.7ZM604.5,217.8 L573.0,217.5 L573.9,215.8 L565.4,218.3 L573.8,220.9 L573.0,219.2 L604.4,219.5ZM603.9,175.1 L573.6,175.3 L574.4,173.6 L565.9,176.2 L574.5,178.7 L573.6,177.0 L603.9,176.8ZM602.2,129.9 L575.3,129.8 L576.2,128.1 L567.7,130.6 L576.1,133.2 L575.3,131.5 L602.1,131.6ZM602.2,81.6 L575.3,81.4 L576.2,79.7 L567.7,82.2 L576.1,84.8 L575.3,83.1 L602.1,83.3ZM601.9,33.9 L575.6,33.5 L576.5,31.8 L568.0,34.3 L576.4,36.9 L575.6,35.2 L601.8,35.6ZM635.4,468.0 L634.9,468.7 L634.1,468.7 L633.6,468.0 L634.1,467.2 L634.9,467.2ZM635.4,460.4 L634.9,461.1 L634.1,461.1 L633.6,460.4 L634.1,459.7 L634.9,459.7ZM637.6,451.4 L637.0,451.4 L637.7,450.2 L631.4,451.5 L637.4,453.9 L636.9,452.6 L637.5,452.6ZM640.4,440.7 L636.3,440.4 L637.3,438.8 L628.6,440.6 L636.9,443.8 L636.2,442.1 L640.3,442.4ZM642.6,429.1 L634.1,428.6 L635.1,426.9 L626.4,428.9 L634.8,432.0 L634.0,430.3 L642.5,430.8ZM644.7,415.7 L632.0,414.8 L633.0,413.1 L624.3,415.1 L632.6,418.2 L631.9,416.5 L644.6,417.4ZM646.7,400.4 L630.0,399.0 L631.0,397.4 L622.3,399.3 L630.6,402.5 L629.9,400.7 L646.6,402.1ZM649.2,383.0 L627.6,381.5 L628.6,379.8 L619.9,381.8 L628.2,384.9 L627.5,383.2 L649.0,384.7ZM652.0,361.2 L624.8,358.6 L625.8,357.0 L617.1,358.7 L625.3,362.1 L624.6,360.3 L651.8,362.9ZM653.2,337.7 L623.5,336.0 L624.5,334.4 L615.8,336.4 L624.2,339.5 L623.4,337.7 L653.1,339.4ZM656.3,310.1 L620.3,309.5 L621.2,307.8 L612.7,310.2 L621.1,312.9 L620.3,311.2 L656.3,311.8ZM656.4,278.3 L620.3,277.5 L621.2,275.9 L612.6,278.2 L621.1,281.0 L620.3,279.2 L656.3,280.0ZM654.1,241.4 L622.6,240.7 L623.5,239.1 L615.0,241.4 L623.4,244.2 L622.6,242.4 L654.0,243.1ZM654.1,198.6 L622.6,197.9 L623.5,196.2 L615.0,198.5 L623.4,201.3 L622.6,199.6 L654.0,200.3ZM651.8,153.0 L624.9,152.0 L625.8,150.3 L617.2,152.6 L625.7,155.4 L624.9,153.7 L651.7,154.7ZM651.8,104.1 L624.9,103.2 L625.8,101.5 L617.2,103.8 L625.7,106.6 L624.9,104.9 L651.7,105.8ZM651.8,55.8 L624.9,54.9 L625.8,53.2 L617.3,55.5 L625.7,58.3 L624.9,56.6 L651.7,57.5ZM685.0,468.1 L684.5,468.8 L683.7,468.8 L683.2,468.1 L683.7,467.3 L684.5,467.3ZM685.0,460.5 L684.5,461.2 L683.7,461.2 L683.2,460.5 L683.7,459.8 L684.5,459.8ZM687.2,451.7 L686.6,451.6 L687.4,450.4 L681.1,451.4 L686.9,454.1 L686.4,452.8 L687.0,452.9ZM689.7,441.1 L686.3,440.6 L687.4,439.1 L678.7,440.4 L686.7,444.1 L686.1,442.3 L689.4,442.8ZM692.1,429.7 L683.9,428.6 L685.0,427.1 L676.2,428.5 L684.3,432.1 L683.7,430.3 L691.9,431.3ZM694.6,416.0 L681.4,414.8 L682.4,413.1 L673.7,414.9 L681.9,418.2 L681.2,416.4 L694.4,417.7ZM696.6,400.2 L679.3,399.2 L680.2,397.6 L671.6,399.6 L680.0,402.6 L679.2,400.9 L696.5,401.9ZM699.1,382.8 L676.9,381.7 L677.8,380.0 L669.2,382.1 L677.5,385.1 L676.8,383.4 L699.0,384.5ZM700.2,360.1 L675.7,359.4 L676.6,357.7 L668.0,360.0 L676.4,362.8 L675.6,361.1 L700.2,361.8ZM703.7,337.1 L672.2,336.5 L673.1,334.8 L664.6,337.1 L673.0,339.9 L672.2,338.2 L703.6,338.8ZM703.7,310.3 L672.2,309.5 L673.1,307.9 L664.5,310.2 L673.0,313.0 L672.2,311.2 L703.6,312.0ZM703.7,278.2 L672.2,277.8 L673.1,276.1 L664.5,278.5 L673.0,281.2 L672.2,279.5 L703.7,279.9ZM703.7,241.2 L672.2,241.0 L673.1,239.3 L664.6,241.8 L673.0,244.4 L672.2,242.7 L703.6,242.9ZM703.7,198.6 L672.2,198.0 L673.1,196.3 L664.6,198.7 L673.0,201.4 L672.2,199.7 L703.6,200.3ZM701.4,153.0 L674.5,152.1 L675.4,150.4 L666.9,152.6 L675.3,155.5 L674.5,153.8 L701.3,154.7ZM701.4,104.2 L674.5,103.3 L675.4,101.6 L666.9,103.8 L675.3,106.7 L674.5,105.0 L701.3,105.9ZM701.2,55.9 L674.7,55.0 L675.6,53.3 L667.0,55.5 L675.4,58.4 L674.6,56.7 L701.1,57.6ZM734.6,465.3 L734.1,466.0 L733.3,466.0 L732.9,465.3 L733.3,464.5 L734.1,464.5ZM734.6,457.7 L734.1,458.4 L733.3,458.4 L732.9,457.7 L733.3,457.0 L734.1,457.0ZM737.3,448.4 L736.6,448.4 L737.3,447.0 L730.1,449.0 L737.2,451.3 L736.5,449.8 L737.3,449.8ZM739.7,437.7 L735.4,437.6 L736.3,435.9 L727.7,438.3 L736.1,441.0 L735.3,439.3 L739.7,439.4ZM742.2,426.0 L732.8,425.9 L733.7,424.2 L725.2,426.6 L733.6,429.3 L732.8,427.6 L742.2,427.7ZM744.6,412.4 L730.5,412.2 L731.4,410.5 L722.9,413.0 L731.3,415.6 L730.5,413.9 L744.5,414.1ZM746.5,396.8 L728.6,396.7 L729.4,395.0 L720.9,397.5 L729.4,400.1 L728.5,398.4 L746.5,398.5ZM749.1,379.3 L725.9,379.3 L726.8,377.6 L718.3,380.2 L726.8,382.7 L725.9,381.0 L749.1,381.0ZM750.1,356.8 L725.0,357.0 L725.8,355.3 L717.3,357.9 L725.8,360.4 L725.0,358.7 L750.1,358.5ZM753.2,333.2 L721.8,334.6 L722.5,332.8 L714.2,335.7 L722.8,337.9 L721.8,336.3 L753.3,334.9ZM753.6,307.2 L721.4,307.1 L722.3,305.4 L713.8,308.0 L722.3,310.5 L721.4,308.8 L753.6,308.9ZM753.3,275.6 L721.8,275.2 L722.7,273.5 L714.2,275.9 L722.6,278.6 L721.8,276.9 L753.2,277.3ZM753.3,238.6 L721.8,238.4 L722.7,236.7 L714.2,239.2 L722.6,241.8 L721.8,240.1 L753.2,240.3ZM752.8,195.9 L722.2,195.6 L723.1,193.9 L714.6,196.4 L723.0,199.0 L722.2,197.3 L752.8,197.6ZM751.0,150.3 L724.1,149.7 L725.0,148.1 L716.5,150.4 L724.9,153.2 L724.1,151.4 L750.9,152.0ZM751.0,101.6 L724.1,101.0 L725.0,99.3 L716.5,101.7 L724.9,104.4 L724.1,102.7 L750.9,103.3ZM749.7,53.3 L725.4,52.7 L726.3,51.1 L717.8,53.4 L726.2,56.2 L725.4,54.4 L749.6,55.0ZM784.2,474.1 L783.7,474.8 L782.9,474.8 L782.5,474.1 L782.9,473.3 L783.7,473.3ZM784.2,466.5 L783.7,467.2 L782.9,467.2 L782.5,466.5 L782.9,465.8 L783.7,465.8ZM786.2,456.5 L785.6,456.7 L785.9,455.3 L780.3,458.5 L786.7,458.9 L785.8,457.9 L786.4,457.7ZM788.6,445.1 L785.1,445.9 L785.5,444.0 L777.8,448.3 L786.6,449.0 L785.4,447.5 L789.0,446.7ZM790.5,433.4 L783.4,434.6 L783.9,432.8 L775.9,436.6 L784.7,437.8 L783.6,436.2 L790.8,435.1ZM792.7,419.7 L781.3,421.1 L781.9,419.4 L773.8,422.9 L782.6,424.4 L781.5,422.8 L792.9,421.4ZM794.7,404.3 L779.4,405.7 L780.1,403.9 L771.8,407.2 L780.5,409.0 L779.5,407.4 L794.8,406.0ZM797.6,387.1 L776.5,388.2 L777.3,386.5 L768.9,389.5 L777.5,391.6 L776.6,389.9 L797.7,388.8ZM799.1,364.8 L775.1,365.7 L775.9,364.0 L767.5,366.8 L776.0,369.1 L775.1,367.4 L799.2,366.5ZM802.8,342.1 L771.4,342.6 L772.2,340.9 L763.8,343.6 L772.3,346.0 L771.4,344.3 L802.9,343.8ZM804.9,315.7 L769.4,315.3 L770.2,313.6 L761.7,316.1 L770.2,318.7 L769.3,317.0 L804.9,317.4ZM804.3,283.8 L770.0,283.3 L770.9,281.6 L762.4,284.0 L770.8,286.7 L770.0,285.0 L804.2,285.5ZM802.9,246.8 L771.4,246.4 L772.3,244.7 L763.8,247.2 L772.2,249.8 L771.4,248.1 L802.8,248.5ZM802.9,204.0 L771.4,203.4 L772.3,201.7 L763.8,204.1 L772.2,206.8 L771.4,205.1 L802.8,205.7ZM800.5,157.7 L773.7,157.7 L774.5,156.0 L766.1,158.6 L774.6,161.1 L773.7,159.4 L800.6,159.4ZM800.6,108.8 L773.7,108.8 L774.6,107.1 L766.1,109.6 L774.5,112.2 L773.7,110.5 L800.5,110.5ZM800.4,60.4 L773.9,60.3 L774.7,58.6 L766.2,61.1 L774.7,63.7 L773.9,62.0 L800.4,62.1ZM833.8,476.5 L833.3,477.3 L832.5,477.3 L832.0,476.5 L832.5,475.8 L833.3,475.8ZM833.8,468.9 L833.3,469.7 L832.5,469.7 L832.0,468.9 L832.5,468.2 L833.3,468.2ZM835.8,459.0 L835.2,459.1 L835.5,457.8 L829.9,460.9 L836.3,461.4 L835.4,460.3 L836.0,460.2ZM838.2,447.5 L834.7,448.3 L835.1,446.5 L827.4,450.8 L836.2,451.4 L835.0,450.0 L838.6,449.2ZM840.1,435.8 L833.0,437.0 L833.5,435.2 L825.5,439.1 L834.3,440.2 L833.2,438.7 L840.4,437.5ZM842.3,422.1 L830.9,423.6 L831.5,421.8 L823.4,425.4 L832.2,426.8 L831.1,425.3 L842.5,423.8ZM844.3,406.7 L829.0,408.1 L829.7,406.3 L821.4,409.6 L830.1,411.4 L829.1,409.8 L844.4,408.4ZM847.2,389.4 L826.1,390.6 L826.9,388.9 L818.5,391.9 L827.1,394.0 L826.2,392.3 L847.3,391.1ZM848.2,367.0 L825.1,368.1 L825.9,366.4 L817.5,369.4 L826.1,371.5 L825.2,369.8 L848.3,368.7ZM851.0,344.3 L822.4,345.0 L823.2,343.3 L814.7,346.1 L823.3,348.4 L822.4,346.7 L851.1,346.0ZM852.9,318.0 L820.6,317.6 L821.4,315.9 L812.9,318.4 L821.4,321.0 L820.5,319.3 L852.9,319.7ZM852.9,286.0 L820.6,285.7 L821.4,284.0 L812.9,286.4 L821.4,289.1 L820.5,287.4 L852.9,287.7ZM851.1,249.1 L822.4,248.7 L823.3,247.0 L814.7,249.4 L823.2,252.1 L822.4,250.4 L851.1,250.8ZM851.1,206.1 L822.4,205.7 L823.3,204.0 L814.7,206.4 L823.2,209.1 L822.4,207.4 L851.0,207.8ZM849.2,160.2 L824.2,159.7 L825.1,158.0 L816.6,160.4 L825.0,163.1 L824.2,161.4 L849.2,161.9ZM849.2,111.3 L824.2,110.7 L825.1,109.0 L816.6,111.4 L825.0,114.1 L824.2,112.4 L849.2,113.0ZM849.2,62.8 L824.3,62.2 L825.2,60.5 L816.6,62.9 L825.0,65.6 L824.2,63.9 L849.2,64.5Z"/>
</g>
</g>
<text x="608.5" y="155.0" font-family='"Liberation Sans", sans-serif' font-size="17.0" text-anchor="middle" textLength="47.0" lengthAdjust="spacingAndGlyphs" fill="#000">304.0</text>
<text x="431.5" y="266.0" font-family='"Liberation Sans", sans-serif' font-size="17.0" text-anchor="middle" textLength="47.0" lengthAdjust="spacingAndGlyphs" fill="#000">302.0</text>
<text x="732.5" y="374.0" font-family='"Liberation Sans", sans-serif' font-size="17.0" text-anchor="middle" textLength="47.0" lengthAdjust="spacingAndGlyphs" fill="#000">298.0</text>
<g stroke="#000" stroke-width="1.5" fill="none">
<rect x="100.0" y="48.0" width="722.5" height="480.0"/>
</g>
<g stroke="#000" stroke-width="0.8">
<line x1="100.0" y1="48.0" x2="100.0" y2="53.0"/>
<line x1="203.2" y1="48.0" x2="203.2" y2="53.0"/>
<line x1="306.4" y1="48.0" x2="306.4" y2="53.0"/>
<line x1="409.6" y1="48.0" x2="409.6" y2="53.0"/>
<line x1="512.9" y1="48.0" x2="512.9" y2="53.0"/>
<line x1="616.1" y1="48.0" x2="616.1" y2="53.0"/>
<line x1="719.3" y1="48.0" x2="719.3" y2="53.0"/>
<line x1="822.5" y1="48.0" x2="822.5" y2="53.0"/>
<line x1="100.0" y1="408.0" x2="105.0" y2="408.0"/>
<line x1="822.5" y1="408.0" x2="817.5" y2="408.0"/>
<line x1="100.0" y1="288.0" x2="105.0" y2="288.0"/>
<line x1="822.5" y1="288.0" x2="817.5" y2="288.0"/>
<line x1="100.0" y1="168.0" x2="105.0" y2="168.0"/>
<line x1="822.5" y1="168.0" x2="817.5" y2="168.0"/>
<line x1="100.0" y1="48.0" x2="105.0" y2="48.0"/>
<line x1="822.5" y1="48.0" x2="817.5" y2="48.0"/>
</g>
<g clip-path="url(#ax)">
<path d="M98.0,530.0 L98.0,498.7 L98.0,498.7 L100.0,499.0 L102.0,499.6 L104.0,500.3 L106.0,501.0 L108.0,501.5 L110.0,500.9 L112.0,499.0 L114.0,497.1 L116.0,495.2 L118.0,493.3 L120.0,491.5 L122.0,489.8 L124.0,488.2 L126.0,486.7 L128.0,485.3 L130.0,483.8 L132.0,482.5 L134.0,481.7 L136.0,481.2 L138.0,480.9 L140.0,480.6 L142.0,480.5 L144.0,480.6 L146.0,481.0 L148.0,481.5 L150.0,482.0 L152.0,482.5 L154.0,483.2 L156.0,483.8 L158.0,484.5 L160.0,485.2 L162.0,486.1 L164.0,486.7 L166.0,487.0 L168.0,486.9 L170.0,486.6 L172.0,486.2 L174.0,485.8 L176.0,485.4 L178.0,485.0 L180.0,484.6 L182.0,484.2 L184.0,483.8 L186.0,483.4 L188.0,483.1 L190.0,483.0 L192.0,483.1 L194.0,483.4 L196.0,483.7 L198.0,484.1 L200.0,484.5 L202.0,484.9 L204.0,485.5 L206.0,486.0 L208.0,486.5 L210.0,486.9 L212.0,487.0 L214.0,486.9 L216.0,486.7 L218.0,486.4 L220.0,486.0 L222.0,485.6 L224.0,485.4 L226.0,485.0 L228.0,484.6 L230.0,484.3 L232.0,484.1 L234.0,484.0 L236.0,484.1 L238.0,484.3 L240.0,484.7 L242.0,485.1 L244.0,485.6 L246.0,486.1 L248.0,486.6 L250.0,487.0 L252.0,487.5 L254.0,488.0 L256.0,488.6 L258.0,489.1 L260.0,489.6 L262.0,489.9 L264.0,490.0 L266.0,489.8 L268.0,489.2 L270.0,488.3 L272.0,487.5 L274.0,486.5 L276.0,485.3 L278.0,484.0 L280.0,483.0 L282.0,482.2 L284.0,481.4 L286.0,480.7 L288.0,480.1 L290.0,479.5 L292.0,478.9 L294.0,478.4 L296.0,477.9 L298.0,477.5 L300.0,477.0 L302.0,476.6 L304.0,476.2 L306.0,475.8 L308.0,475.4 L310.0,475.1 L312.0,474.7 L314.0,474.3 L316.0,473.9 L318.0,473.5 L320.0,473.0 L322.0,472.5 L324.0,471.9 L326.0,471.3 L328.0,470.6 L330.0,469.9 L332.0,469.2 L334.0,468.4 L336.0,467.6 L338.0,466.8 L340.0,466.0 L342.0,465.2 L344.0,464.3 L346.0,463.4 L348.0,462.4 L350.0,461.5 L352.0,460.5 L354.0,459.4 L356.0,458.3 L358.0,457.2 L360.0,456.0 L362.0,454.8 L364.0,453.4 L366.0,452.0 L368.0,450.6 L370.0,449.0 L372.0,447.5 L374.0,445.9 L376.0,444.3 L378.0,442.6 L380.0,441.0 L382.0,439.4 L384.0,437.7 L386.0,435.9 L388.0,434.2 L390.0,432.3 L392.0,430.5 L394.0,428.5 L396.0,426.4 L398.0,424.2 L400.0,422.0 L402.0,419.9 L404.0,417.7 L406.0,415.8 L408.0,414.7 L410.0,414.2 L412.0,414.9 L414.0,416.1 L416.0,417.6 L418.0,419.2 L420.0,420.8 L422.0,422.3 L424.0,423.9 L426.0,425.5 L428.0,427.0 L430.0,428.5 L432.0,429.8 L434.0,431.0 L436.0,432.0 L438.0,433.0 L440.0,434.0 L442.0,435.0 L444.0,435.9 L446.0,436.8 L448.0,437.7 L450.0,438.6 L452.0,439.4 L454.0,440.2 L456.0,441.0 L458.0,441.8 L460.0,442.5 L462.0,443.3 L464.0,444.0 L466.0,444.6 L468.0,445.3 L470.0,445.8 L472.0,446.3 L474.0,446.7 L476.0,447.0 L478.0,447.4 L480.0,447.8 L482.0,448.2 L484.0,448.7 L486.0,449.2 L488.0,449.8 L490.0,450.3 L492.0,450.8 L494.0,451.2 L496.0,451.6 L498.0,452.0 L500.0,452.4 L502.0,452.6 L504.0,452.8 L506.0,452.7 L508.0,452.2 L510.0,451.5 L512.0,450.7 L514.0,449.6 L516.0,448.4 L518.0,446.9 L520.0,445.4 L522.0,444.0 L524.0,442.5 L526.0,441.1 L528.0,439.6 L530.0,438.0 L532.0,436.5 L534.0,435.0 L536.0,433.5 L538.0,432.1 L540.0,430.6 L542.0,429.2 L544.0,427.8 L546.0,426.5 L548.0,425.2 L550.0,423.7 L552.0,422.5 L554.0,421.9 L556.0,421.8 L558.0,421.7 L560.0,421.8 L562.0,423.1 L564.0,425.2 L566.0,427.1 L568.0,429.3 L570.0,431.5 L572.0,433.8 L574.0,435.8 L576.0,437.8 L578.0,439.7 L580.0,441.5 L582.0,443.1 L584.0,444.7 L586.0,446.2 L588.0,447.5 L590.0,448.8 L592.0,449.9 L594.0,451.0 L596.0,452.0 L598.0,453.0 L600.0,454.0 L602.0,455.1 L604.0,456.2 L606.0,457.4 L608.0,458.5 L610.0,459.7 L612.0,460.8 L614.0,461.9 L616.0,463.0 L618.0,464.0 L620.0,465.0 L622.0,465.9 L624.0,466.8 L626.0,467.7 L628.0,468.5 L630.0,469.3 L632.0,470.1 L634.0,470.8 L636.0,471.5 L638.0,472.2 L640.0,473.0 L642.0,473.8 L644.0,474.6 L646.0,475.4 L648.0,476.1 L650.0,476.6 L652.0,477.1 L654.0,477.4 L656.0,477.5 L658.0,477.3 L660.0,476.9 L662.0,476.3 L664.0,475.5 L666.0,474.8 L668.0,474.1 L670.0,473.5 L672.0,473.0 L674.0,472.4 L676.0,471.9 L678.0,471.4 L680.0,471.1 L682.0,471.0 L684.0,471.1 L686.0,471.2 L688.0,471.4 L690.0,471.6 L692.0,471.9 L694.0,472.1 L696.0,472.3 L698.0,472.4 L700.0,472.5 L702.0,472.5 L704.0,472.5 L706.0,472.4 L708.0,472.4 L710.0,472.3 L712.0,472.2 L714.0,472.1 L716.0,472.0 L718.0,471.8 L720.0,471.4 L722.0,471.0 L724.0,470.4 L726.0,469.9 L728.0,469.3 L730.0,468.9 L732.0,468.5 L734.0,468.2 L736.0,467.9 L738.0,467.6 L740.0,467.4 L742.0,467.2 L744.0,467.0 L746.0,467.0 L748.0,467.1 L750.0,467.5 L752.0,468.1 L754.0,468.7 L756.0,469.4 L758.0,470.0 L760.0,470.6 L762.0,471.3 L764.0,472.0 L766.0,472.7 L768.0,473.4 L770.0,474.0 L772.0,474.5 L774.0,475.0 L776.0,475.5 L778.0,475.9 L780.0,476.4 L782.0,476.8 L784.0,477.2 L786.0,477.6 L788.0,478.1 L790.0,478.5 L792.0,479.0 L794.0,479.5 L796.0,480.1 L798.0,480.7 L800.0,481.2 L802.0,481.6 L804.0,481.9 L806.0,482.0 L808.0,481.9 L810.0,481.6 L812.0,481.3 L814.0,481.0 L816.0,480.7 L818.0,480.3 L820.0,479.9 L822.0,479.6 L824.0,479.4 L825.0,479.3 L824.5,479.3 L824.5,530.0Z" fill="#4d4d4d"/>
<path d="M98.0,498.7 L98.0,498.7 L100.0,499.0 L102.0,499.6 L104.0,500.3 L106.0,501.0 L108.0,501.5 L110.0,500.9 L112.0,499.0 L114.0,497.1 L116.0,495.2 L118.0,493.3 L120.0,491.5 L122.0,489.8 L124.0,488.2 L126.0,486.7 L128.0,485.3 L130.0,483.8 L132.0,482.5 L134.0,481.7 L136.0,481.2 L138.0,480.9 L140.0,480.6 L142.0,480.5 L144.0,480.6 L146.0,481.0 L148.0,481.5 L150.0,482.0 L152.0,482.5 L154.0,483.2 L156.0,483.8 L158.0,484.5 L160.0,485.2 L162.0,486.1 L164.0,486.7 L166.0,487.0 L168.0,486.9 L170.0,486.6 L172.0,486.2 L174.0,485.8 L176.0,485.4 L178.0,485.0 L180.0,484.6 L182.0,484.2 L184.0,483.8 L186.0,483.4 L188.0,483.1 L190.0,483.0 L192.0,483.1 L194.0,483.4 L196.0,483.7 L198.0,484.1 L200.0,484.5 L202.0,484.9 L204.0,485.5 L206.0,486.0 L208.0,486.5 L210.0,486.9 L212.0,487.0 L214.0,486.9 L216.0,486.7 L218.0,486.4 L220.0,486.0 L222.0,485.6 L224.0,485.4 L226.0,485.0 L228.0,484.6 L230.0,484.3 L232.0,484.1 L234.0,484.0 L236.0,484.1 L238.0,484.3 L240.0,484.7 L242.0,485.1 L244.0,485.6 L246.0,486.1 L248.0,486.6 L250.0,487.0 L252.0,487.5 L254.0,488.0 L256.0,488.6 L258.0,489.1 L260.0,489.6 L262.0,489.9 L264.0,490.0 L266.0,489.8 L268.0,489.2 L270.0,488.3 L272.0,487.5 L274.0,486.5 L276.0,485.3 L278.0,484.0 L280.0,483.0 L282.0,482.2 L284.0,481.4 L286.0,480.7 L288.0,480.1 L290.0,479.5 L292.0,478.9 L294.0,478.4 L296.0,477.9 L298.0,477.5 L300.0,477.0 L302.0,476.6 L304.0,476.2 L306.0,475.8 L308.0,475.4 L310.0,475.1 L312.0,474.7 L314.0,474.3 L316.0,473.9 L318.0,473.5 L320.0,473.0 L322.0,472.5 L324.0,471.9 L326.0,471.3 L328.0,470.6 L330.0,469.9 L332.0,469.2 L334.0,468.4 L336.0,467.6 L338.0,466.8 L340.0,466.0 L342.0,465.2 L344.0,464.3 L346.0,463.4 L348.0,462.4 L350.0,461.5 L352.0,460.5 L354.0,459.4 L356.0,458.3 L358.0,457.2 L360.0,456.0 L362.0,454.8 L364.0,453.4 L366.0,452.0 L368.0,450.6 L370.0,449.0 L372.0,447.5 L374.0,445.9 L376.0,444.3 L378.0,442.6 L380.0,441.0 L382.0,439.4 L384.0,437.7 L386.0,435.9 L388.0,434.2 L390.0,432.3 L392.0,430.5 L394.0,428.5 L396.0,426.4 L398.0,424.2 L400.0,422.0 L402.0,419.9 L404.0,417.7 L406.0,415.8 L408.0,414.7 L410.0,414.2 L412.0,414.9 L414.0,416.1 L416.0,417.6 L418.0,419.2 L420.0,420.8 L422.0,422.3 L424.0,423.9 L426.0,425.5 L428.0,427.0 L430.0,428.5 L432.0,429.8 L434.0,431.0 L436.0,432.0 L438.0,433.0 L440.0,434.0 L442.0,435.0 L444.0,435.9 L446.0,436.8 L448.0,437.7 L450.0,438.6 L452.0,439.4 L454.0,440.2 L456.0,441.0 L458.0,441.8 L460.0,442.5 L462.0,443.3 L464.0,444.0 L466.0,444.6 L468.0,445.3 L470.0,445.8 L472.0,446.3 L474.0,446.7 L476.0,447.0 L478.0,447.4 L480.0,447.8 L482.0,448.2 L484.0,448.7 L486.0,449.2 L488.0,449.8 L490.0,450.3 L492.0,450.8 L494.0,451.2 L496.0,451.6 L498.0,452.0 L500.0,452.4 L502.0,452.6 L504.0,452.8 L506.0,452.7 L508.0,452.2 L510.0,451.5 L512.0,450.7 L514.0,449.6 L516.0,448.4 L518.0,446.9 L520.0,445.4 L522.0,444.0 L524.0,442.5 L526.0,441.1 L528.0,439.6 L530.0,438.0 L532.0,436.5 L534.0,435.0 L536.0,433.5 L538.0,432.1 L540.0,430.6 L542.0,429.2 L544.0,427.8 L546.0,426.5 L548.0,425.2 L550.0,423.7 L552.0,422.5 L554.0,421.9 L556.0,421.8 L558.0,421.7 L560.0,421.8 L562.0,423.1 L564.0,425.2 L566.0,427.1 L568.0,429.3 L570.0,431.5 L572.0,433.8 L574.0,435.8 L576.0,437.8 L578.0,439.7 L580.0,441.5 L582.0,443.1 L584.0,444.7 L586.0,446.2 L588.0,447.5 L590.0,448.8 L592.0,449.9 L594.0,451.0 L596.0,452.0 L598.0,453.0 L600.0,454.0 L602.0,455.1 L604.0,456.2 L606.0,457.4 L608.0,458.5 L610.0,459.7 L612.0,460.8 L614.0,461.9 L616.0,463.0 L618.0,464.0 L620.0,465.0 L622.0,465.9 L624.0,466.8 L626.0,467.7 L628.0,468.5 L630.0,469.3 L632.0,470.1 L634.0,470.8 L636.0,471.5 L638.0,472.2 L640.0,473.0 L642.0,473.8 L644.0,474.6 L646.0,475.4 L648.0,476.1 L650.0,476.6 L652.0,477.1 L654.0,477.4 L656.0,477.5 L658.0,477.3 L660.0,476.9 L662.0,476.3 L664.0,475.5 L666.0,474.8 L668.0,474.1 L670.0,473.5 L672.0,473.0 L674.0,472.4 L676.0,471.9 L678.0,471.4 L680.0,471.1 L682.0,471.0 L684.0,471.1 L686.0,471.2 L688.0,471.4 L690.0,471.6 L692.0,471.9 L694.0,472.1 L696.0,472.3 L698.0,472.4 L700.0,472.5 L702.0,472.5 L704.0,472.5 L706.0,472.4 L708.0,472.4 L710.0,472.3 L712.0,472.2 L714.0,472.1 L716.0,472.0 L718.0,471.8 L720.0,471.4 L722.0,471.0 L724.0,470.4 L726.0,469.9 L728.0,469.3 L730.0,468.9 L732.0,468.5 L734.0,468.2 L736.0,467.9 L738.0,467.6 L740.0,467.4 L742.0,467.2 L744.0,467.0 L746.0,467.0 L748.0,467.1 L750.0,467.5 L752.0,468.1 L754.0,468.7 L756.0,469.4 L758.0,470.0 L760.0,470.6 L762.0,471.3 L764.0,472.0 L766.0,472.7 L768.0,473.4 L770.0,474.0 L772.0,474.5 L774.0,475.0 L776.0,475.5 L778.0,475.9 L780.0,476.4 L782.0,476.8 L784.0,477.2 L786.0,477.6 L788.0,478.1 L790.0,478.5 L792.0,479.0 L794.0,479.5 L796.0,480.1 L798.0,480.7 L800.0,481.2 L802.0,481.6 L804.0,481.9 L806.0,482.0 L808.0,481.9 L810.0,481.6 L812.0,481.3 L814.0,481.0 L816.0,480.7 L818.0,480.3 L820.0,479.9 L822.0,479.6 L824.0,479.4 L825.0,479.3 L824.5,479.3" fill="none" stroke="#fff" stroke-width="2.40" stroke-linejoin="round"/>
</g>
<text x="100.0" y="550.8" font-family='"Liberation Sans", sans-serif' font-size="23.0" text-anchor="middle" textLength="30.0" lengthAdjust="spacingAndGlyphs" fill="#000">−3</text>
<text x="203.2" y="550.8" font-family='"Liberation Sans", sans-serif' font-size="23.0" text-anchor="middle" textLength="30.0" lengthAdjust="spacingAndGlyphs" fill="#000">−2</text>
<text x="306.4" y="550.8" font-family='"Liberation Sans", sans-serif' font-size="23.0" text-anchor="middle" textLength="30.0" lengthAdjust="spacingAndGlyphs" fill="#000">−1</text>
<text x="409.6" y="550.8" font-family='"Liberation Sans", sans-serif' font-size="23.0" text-anchor="middle" textLength="14.6" lengthAdjust="spacingAndGlyphs" fill="#000">0</text>
<text x="512.9" y="550.8" font-family='"Liberation Sans", sans-serif' font-size="23.0" text-anchor="middle" textLength="14.6" lengthAdjust="spacingAndGlyphs" fill="#000">1</text>
<text x="616.1" y="550.8" font-family='"Liberation Sans", sans-serif' font-size="23.0" text-anchor="middle" textLength="14.6" lengthAdjust="spacingAndGlyphs" fill="#000">2</text>
<text x="719.3" y="550.8" font-family='"Liberation Sans", sans-serif' font-size="23.0" text-anchor="middle" textLength="14.6" lengthAdjust="spacingAndGlyphs" fill="#000">3</text>
<text x="822.5" y="550.8" font-family='"Liberation Sans", sans-serif' font-size="23.0" text-anchor="middle" textLength="14.6" lengthAdjust="spacingAndGlyphs" fill="#000">4</text>
<text x="94.6" y="534.3" font-family='"Liberation Sans", sans-serif' font-size="23.0" text-anchor="end" textLength="33.5" lengthAdjust="spacingAndGlyphs" fill="#000">0.0</text>
<text x="94.6" y="414.3" font-family='"Liberation Sans", sans-serif' font-size="23.0" text-anchor="end" textLength="33.5" lengthAdjust="spacingAndGlyphs" fill="#000">0.5</text>
<text x="94.6" y="294.3" font-family='"Liberation Sans", sans-serif' font-size="23.0" text-anchor="end" textLength="33.5" lengthAdjust="spacingAndGlyphs" fill="#000">1.0</text>
<text x="94.6" y="174.3" font-family='"Liberation Sans", sans-serif' font-size="23.0" text-anchor="end" textLength="33.5" lengthAdjust="spacingAndGlyphs" fill="#000">1.5</text>
<text x="94.6" y="54.3" font-family='"Liberation Sans", sans-serif' font-size="23.0" text-anchor="end" textLength="33.5" lengthAdjust="spacingAndGlyphs" fill="#000">2.0</text>
<text x="161.3" y="41.2" font-family='"Liberation Sans", sans-serif' font-size="25.5" text-anchor="start" textLength="48.4" lengthAdjust="spacingAndGlyphs" fill="#000">Init:</text><text x="217.6" y="41.2" font-family='"Liberation Sans", sans-serif' font-size="25.5" text-anchor="start" textLength="145.3" lengthAdjust="spacingAndGlyphs" fill="#000">2017-04-30</text><text x="370.9" y="41.2" font-family='"Liberation Sans", sans-serif' font-size="25.5" text-anchor="start" textLength="80.5" lengthAdjust="spacingAndGlyphs" fill="#000">00:00;</text><text x="459.3" y="41.2" font-family='"Liberation Sans", sans-serif' font-size="25.5" text-anchor="start" textLength="68.7" lengthAdjust="spacingAndGlyphs" fill="#000">Valid:</text><text x="535.9" y="41.2" font-family='"Liberation Sans", sans-serif' font-size="25.5" text-anchor="start" textLength="145.3" lengthAdjust="spacingAndGlyphs" fill="#000">2017-05-23</text><text x="689.2" y="41.2" font-family='"Liberation Sans", sans-serif' font-size="25.5" text-anchor="start" textLength="72.0" lengthAdjust="spacingAndGlyphs" fill="#000">06:00</text>
<text x="373.9" y="581.0" font-family='"Liberation Sans", sans-serif' font-size="25.5" text-anchor="start" textLength="109.3" lengthAdjust="spacingAndGlyphs" fill="#000">Distance</text><text x="491.2" y="581.0" font-family='"Liberation Sans", sans-serif' font-size="25.5" text-anchor="start" textLength="58.3" lengthAdjust="spacingAndGlyphs" fill="#000">(km)</text>
<g transform="translate(50.0,368.9) rotate(-90)"><text x="0.0" y="0.0" font-family='"Liberation Sans", sans-serif' font-size="25.5" text-anchor="start" textLength="97.7" lengthAdjust="spacingAndGlyphs" fill="#000">Altitude</text></g><g transform="translate(50.0,263.2) rotate(-90)"><text x="0.0" y="0.0" font-family='"Liberation Sans", sans-serif' font-size="25.5" text-anchor="start" textLength="58.3" lengthAdjust="spacingAndGlyphs" fill="#000">(km)</text></g>
<g shape-rendering="crispEdges">
<rect x="839.5" y="450.47" width="17.5" height="12.13" fill="#36459c"/>
<rect x="839.5" y="438.84" width="17.5" height="12.13" fill="#4065ac"/>
<rect x="839.5" y="427.21" width="17.5" height="12.13" fill="#5183bb"/>
<rect x="839.5" y="415.58" width="17.5" height="12.13" fill="#679ec9"/>
<rect x="839.5" y="403.95" width="17.5" height="12.13" fill="#81b7d7"/>
<rect x="839.5" y="392.32" width="17.5" height="12.13" fill="#9dcee3"/>
<rect x="839.5" y="380.69" width="17.5" height="12.13" fill="#b9e0ed"/>
<rect x="839.5" y="369.06" width="17.5" height="12.13" fill="#d4edf4"/>
<rect x="839.5" y="357.43" width="17.5" height="12.13" fill="#e7f6eb"/>
<rect x="839.5" y="345.80" width="17.5" height="12.13" fill="#f7fcce"/>
<rect x="839.5" y="334.17" width="17.5" height="12.13" fill="#fffbb9"/>
<rect x="839.5" y="322.54" width="17.5" height="12.13" fill="#fff3ad"/>
<rect x="839.5" y="310.91" width="17.5" height="12.13" fill="#feeba1"/>
<rect x="839.5" y="299.28" width="17.5" height="12.13" fill="#fee496"/>
<rect x="839.5" y="287.65" width="17.5" height="12.13" fill="#feda8a"/>
<rect x="839.5" y="276.02" width="17.5" height="12.13" fill="#fecc7e"/>
<rect x="839.5" y="264.39" width="17.5" height="12.13" fill="#fdc173"/>
<rect x="839.5" y="252.76" width="17.5" height="12.13" fill="#fdb366"/>
<rect x="839.5" y="241.13" width="17.5" height="12.13" fill="#fca55d"/>
<rect x="839.5" y="229.50" width="17.5" height="12.13" fill="#fa9656"/>
<rect x="839.5" y="217.87" width="17.5" height="12.13" fill="#f7844e"/>
<rect x="839.5" y="206.24" width="17.5" height="12.13" fill="#f57547"/>
<rect x="839.5" y="194.61" width="17.5" height="12.13" fill="#ef633f"/>
<rect x="839.5" y="182.98" width="17.5" height="12.13" fill="#e95538"/>
<rect x="839.5" y="171.35" width="17.5" height="12.13" fill="#e24731"/>
<rect x="839.5" y="159.72" width="17.5" height="12.13" fill="#da362a"/>
<rect x="839.5" y="148.09" width="17.5" height="12.13" fill="#d02927"/>
<rect x="839.5" y="136.46" width="17.5" height="12.13" fill="#c21c27"/>
<rect x="839.5" y="124.83" width="17.5" height="12.13" fill="#b71126"/>
<rect x="839.5" y="113.20" width="17.5" height="12.13" fill="#ab0626"/>
</g>
<path d="M839.5,113.5 L848.2,95.5 L857.0,113.5 Z" fill="#a50026"/>
<path d="M839.5,461.8 L848.2,480.0 L857.0,461.8 Z" fill="#313695"/>
<path d="M839.5,113.2 L848.2,95.5 L857.0,113.2 L857.0,462.1 L848.2,480.0 L839.5,462.1 Z" fill="none" stroke="#000" stroke-width="1.2" stroke-linejoin="miter"/>
<g stroke="#000" stroke-width="0.8">
<line x1="852.0" y1="113.20" x2="857.0" y2="113.20"/>
<line x1="852.0" y1="159.72" x2="857.0" y2="159.72"/>
<line x1="852.0" y1="206.24" x2="857.0" y2="206.24"/>
<line x1="852.0" y1="252.76" x2="857.0" y2="252.76"/>
<line x1="852.0" y1="299.28" x2="857.0" y2="299.28"/>
<line x1="852.0" y1="345.80" x2="857.0" y2="345.80"/>
<line x1="852.0" y1="392.32" x2="857.0" y2="392.32"/>
<line x1="852.0" y1="438.84" x2="857.0" y2="438.84"/>
</g>
<text x="860.8" y="119.5" font-family='"Liberation Sans", sans-serif' font-size="23.0" text-anchor="start" textLength="28.5" lengthAdjust="spacingAndGlyphs" fill="#000">20</text>
<text x="860.8" y="166.0" font-family='"Liberation Sans", sans-serif' font-size="23.0" text-anchor="start" textLength="28.5" lengthAdjust="spacingAndGlyphs" fill="#000">16</text>
<text x="860.8" y="212.5" font-family='"Liberation Sans", sans-serif' font-size="23.0" text-anchor="start" textLength="28.5" lengthAdjust="spacingAndGlyphs" fill="#000">12</text>
<text x="860.8" y="259.1" font-family='"Liberation Sans", sans-serif' font-size="23.0" text-anchor="start" textLength="14.6" lengthAdjust="spacingAndGlyphs" fill="#000">8</text>
<text x="860.8" y="305.6" font-family='"Liberation Sans", sans-serif' font-size="23.0" text-anchor="start" textLength="14.6" lengthAdjust="spacingAndGlyphs" fill="#000">4</text>
<text x="860.8" y="352.1" font-family='"Liberation Sans", sans-serif' font-size="23.0" text-anchor="start" textLength="14.6" lengthAdjust="spacingAndGlyphs" fill="#000">0</text>
<text x="860.8" y="398.6" font-family='"Liberation Sans", sans-serif' font-size="23.0" text-anchor="start" textLength="28.5" lengthAdjust="spacingAndGlyphs" fill="#000">−4</text>
<text x="860.8" y="445.1" font-family='"Liberation Sans", sans-serif' font-size="23.0" text-anchor="start" textLength="28.5" lengthAdjust="spacingAndGlyphs" fill="#000">−8</text>
<g transform="translate(921.5,476.0) rotate(-90)"><text x="0.0" y="0.0" font-family='"Liberation Sans", sans-serif' font-size="25.5" text-anchor="start" textLength="127.6" lengthAdjust="spacingAndGlyphs" fill="#000">Horizontal</text></g><g transform="translate(921.5,340.4) rotate(-90)"><text x="0.0" y="0.0" font-family='"Liberation Sans", sans-serif' font-size="25.5" text-anchor="start" textLength="59.1" lengthAdjust="spacingAndGlyphs" fill="#000">wind</text></g><g transform="translate(921.5,273.3) rotate(-90)"><text x="0.0" y="0.0" font-family='"Liberation Sans", sans-serif' font-size="25.5" text-anchor="start" textLength="75.5" lengthAdjust="spacingAndGlyphs" fill="#000">speed</text></g><g transform="translate(921.5,189.9) rotate(-90)"><text x="0.0" y="0.0" font-family='"Liberation Sans", sans-serif' font-size="25.5" text-anchor="start" textLength="34.1" lengthAdjust="spacingAndGlyphs" fill="#000">(m</text></g><g transform="translate(921.5,147.8) rotate(-90)"><text x="0.0" y="0.0" font-family='"Liberation Sans", sans-serif' font-size="25.5" text-anchor="start" textLength="13.0" lengthAdjust="spacingAndGlyphs" fill="#000">s</text></g>
<g transform="translate(910.5,134.3) rotate(-90)"><text x="0.0" y="0.0" font-family='"Liberation Sans", sans-serif' font-size="18.0" text-anchor="start" textLength="23.5" lengthAdjust="spacingAndGlyphs" fill="#222">−1</text></g>
<g transform="translate(921.5,107.8) rotate(-90)"><text x="0.0" y="0.0" font-family='"Liberation Sans", sans-serif' font-size="25.5" text-anchor="start" textLength="9.0" lengthAdjust="spacingAndGlyphs" fill="#000">)</text></g>
</svg>
</body></html>
